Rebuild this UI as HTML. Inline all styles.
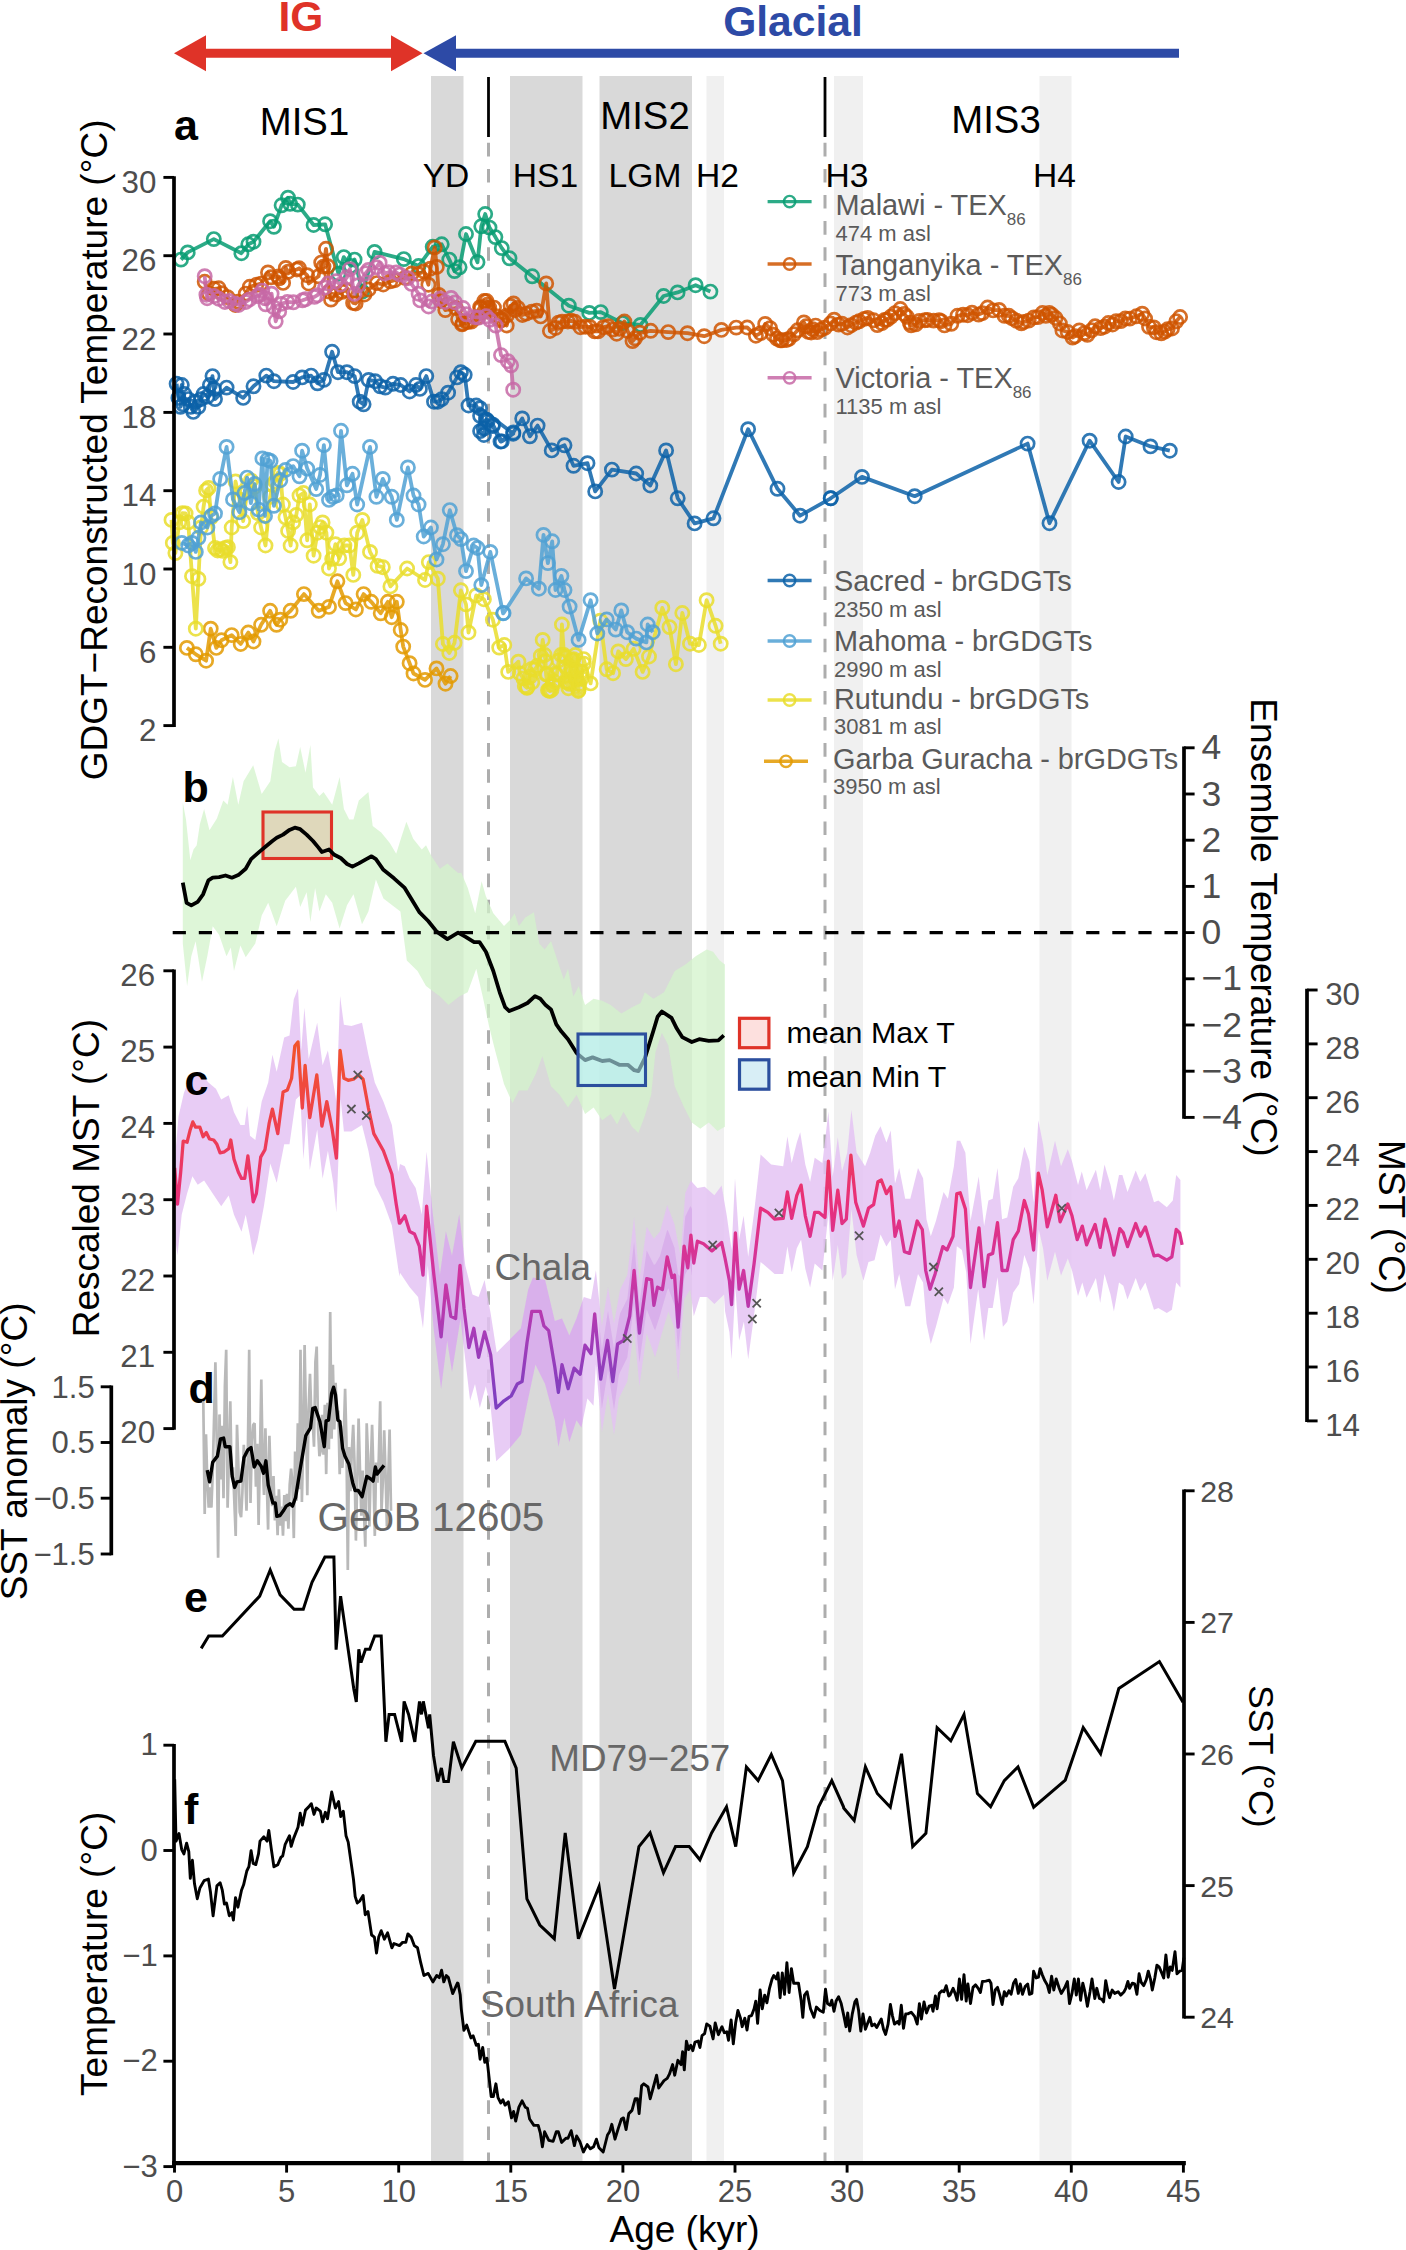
<!DOCTYPE html>
<html><head><meta charset="utf-8"><title>Figure</title>
<style>html,body{margin:0;padding:0;background:#fff}body{width:1406px;height:2250px;overflow:hidden;font-family:"Liberation Sans", sans-serif}svg{display:block}</style>
</head><body>
<svg width="1406" height="2250" viewBox="0 0 1406 2250" font-family='"Liberation Sans", sans-serif'><rect x="431" y="76" width="32.5" height="2088" fill="#d9d9d9"/>
<rect x="510" y="76" width="72.5" height="2088" fill="#d9d9d9"/>
<rect x="599.5" y="76" width="92.5" height="2088" fill="#d9d9d9"/>
<rect x="706.5" y="76" width="17.5" height="2088" fill="#f0f0f0"/>
<rect x="834" y="76" width="29" height="2088" fill="#f0f0f0"/>
<rect x="1039.5" y="76" width="32.0" height="2088" fill="#f0f0f0"/>
<line x1="488.5" y1="142.8" x2="488.5" y2="2164" stroke="#adadad" stroke-width="3" stroke-dasharray="13.6 12.5"/>
<line x1="488.5" y1="77" x2="488.5" y2="137" stroke="#000" stroke-width="2.8"/>
<line x1="825" y1="142.8" x2="825" y2="2164" stroke="#adadad" stroke-width="3" stroke-dasharray="13.6 12.5"/>
<line x1="825" y1="77" x2="825" y2="137" stroke="#000" stroke-width="2.8"/>
<path d="M182.8,802.5 L186.0,819.6 L190.3,860.2 L193.5,849.5 L196.7,845.2 L199.9,823.9 L204.1,808.9 L209.5,830.3 L216.9,818.5 L223.3,800.4 L227.6,804.7 L232.9,776.9 L238.3,804.7 L243.6,781.2 L253.2,765.2 L261.7,794.0 L270.3,781.2 L274.6,751.3 L278.4,738.5 L282.0,762.0 L289.5,767.3 L295.9,766.3 L300.2,747.1 L305.5,772.7 L310.4,744.9 L313.0,787.6 L319.4,796.1 L323.6,791.9 L332.2,804.7 L339.6,776.9 L343.9,808.9 L349.2,819.6 L353.5,819.6 L358.8,800.4 L368.4,791.9 L372.7,826.0 L381.2,832.4 L389.8,843.1 L396.2,853.8 L401.5,836.7 L406.4,821.7 L413.2,838.8 L421.8,849.5 L426.0,845.2 L431.4,855.9 L439.9,868.7 L447.4,863.4 L458.1,873.0 L461.3,872.8 L467.7,887.7 L475.2,913.3 L481.6,881.3 L485.9,896.3 L493.3,913.3 L504.0,926.1 L510.4,919.7 L514.7,913.3 L518.9,926.1 L525.3,917.6 L533.9,912.3 L539.2,943.2 L544.6,949.6 L551.0,941.1 L557.4,960.3 L563.8,979.5 L568.0,968.8 L573.4,996.6 L578.7,985.9 L585.1,1005.1 L593.6,998.7 L602.2,1000.8 L610.7,1005.1 L621.4,1013.6 L632.0,1007.2 L640.6,1003.0 L644.8,992.3 L653.4,998.7 L664.0,992.3 L674.7,971.0 L685.4,964.6 L696.0,956.0 L706.7,949.6 L713.1,951.7 L719.5,960.3 L724.9,964.6 L724.9,1126.7 L717.4,1131.0 L708.8,1122.4 L700.3,1128.8 L691.8,1122.4 L683.2,1105.4 L674.7,1086.2 L668.3,1045.6 L661.9,1032.8 L655.5,1052.0 L651.2,1094.7 L644.8,1116.0 L638.4,1133.1 L632.0,1126.7 L623.5,1111.8 L617.1,1124.6 L610.7,1113.9 L602.2,1120.3 L593.6,1107.5 L585.1,1113.9 L576.6,1094.7 L568.0,1107.5 L559.5,1094.7 L551.0,1086.2 L542.4,1056.3 L536.0,1073.4 L527.5,1090.4 L518.9,1090.4 L512.5,1103.2 L504.0,1084.0 L495.5,1052.0 L489.1,1026.4 L482.7,996.6 L476.3,968.8 L467.7,992.3 L459.2,996.6 L448.5,1005.1 L440.0,996.6 L426.0,986.0 L417.5,971.1 L406.8,960.4 L400.4,911.4 L391.9,905.0 L383.4,898.6 L375.9,879.4 L368.4,911.4 L362.0,924.2 L353.5,894.3 L347.1,905.0 L339.6,928.4 L332.2,902.8 L325.8,894.3 L319.4,911.4 L315.1,887.9 L310.4,922.0 L306.6,892.2 L300.2,907.1 L295.9,886.8 L285.2,900.7 L276.7,926.3 L268.2,902.8 L261.7,915.6 L255.3,943.4 L245.7,957.2 L240.4,945.5 L234.0,971.1 L230.8,947.6 L226.5,956.2 L219.1,934.8 L212.7,926.3 L207.3,956.2 L202.0,981.8 L195.6,941.2 L191.3,956.2 L187.1,986.0 L182.8,943.4Z" fill="rgba(211,243,203,0.75)" stroke="none"/>
<path d="M174.7,1161.4 L178.5,1116.6 L183.9,1093.1 L191.3,1073.9 L199.9,1071.7 L208.4,1082.4 L215.9,1088.8 L221.2,1099.5 L228.7,1095.2 L234.0,1112.3 L240.4,1125.1 L244.7,1125.1 L247.2,1105.9 L250.0,1135.8 L255.3,1140.0 L261.7,1101.6 L268.2,1082.4 L272.4,1054.7 L276.7,1071.7 L284.2,1037.6 L289.5,1035.5 L293.8,999.2 L298.0,988.5 L301.2,1050.4 L304.4,1007.7 L308.7,1058.9 L317.2,1022.7 L322.6,1065.3 L327.9,1050.4 L333.2,1082.4 L336.4,1101.6 L340.1,996.0 L343.9,1024.8 L351.4,1025.9 L362.0,1022.7 L368.4,1054.7 L374.8,1082.4 L383.4,1101.6 L391.9,1125.1 L398.3,1172.0 L400.0,1163.9 L404.8,1166.3 L409.7,1178.4 L415.7,1188.0 L421.8,1214.6 L426.6,1151.8 L432.6,1212.2 L439.9,1275.1 L445.9,1231.6 L452.0,1255.7 L459.2,1214.6 L465.3,1265.4 L472.5,1294.4 L478.6,1296.9 L484.6,1279.9 L490.7,1313.8 L496.7,1352.5 L508.8,1340.4 L520.9,1328.3 L528.2,1289.6 L533.0,1277.5 L545.1,1279.9 L554.8,1321.0 L562.0,1318.6 L569.3,1335.5 L576.5,1318.6 L583.8,1296.9 L591.0,1299.3 L595.9,1270.3 L601.9,1325.9 L608.0,1287.2 L614.0,1323.5 L620.1,1289.6 L627.3,1275.1 L634.1,1217.1 L639.4,1279.9 L646.7,1226.7 L653.9,1238.8 L660.0,1231.6 L667.2,1205.0 L674.5,1224.3 L680.5,1255.7 L685.3,1192.9 L690.9,1180.8 L697.4,1188.0 L704.7,1186.8 L714.4,1195.3 L721.6,1185.6 L726.8,1215.8 L731.6,1250.0 L735.0,1178.3 L739.1,1239.7 L743.6,1215.8 L748.2,1256.8 L754.1,1212.4 L760.6,1154.4 L771.2,1164.6 L783.2,1166.3 L787.4,1136.5 L791.7,1162.9 L796.8,1142.4 L800.2,1132.2 L805.3,1164.6 L810.1,1181.7 L814.7,1157.8 L822.4,1162.9 L828.4,1111.7 L832.7,1176.6 L837.8,1137.3 L842.0,1171.5 L847.2,1152.7 L851.4,1110.0 L856.6,1152.7 L865.1,1166.3 L870.2,1152.7 L875.3,1135.6 L880.5,1126.2 L886.4,1142.4 L890.7,1130.5 L895.0,1183.4 L899.2,1168.0 L905.2,1198.8 L910.3,1198.8 L918.0,1168.0 L923.1,1178.3 L926.5,1219.2 L930.8,1236.3 L935.9,1221.0 L943.6,1191.9 L947.9,1198.8 L953.9,1166.3 L956.8,1140.7 L957.3,1140.7 L960.2,1140.7 L965.4,1152.7 L970.5,1221.0 L978.7,1176.6 L984.1,1226.1 L988.4,1200.5 L992.7,1198.8 L997.5,1168.0 L1002.1,1219.2 L1007.2,1217.5 L1013.2,1186.8 L1018.3,1178.3 L1024.3,1146.7 L1029.4,1161.2 L1033.6,1202.2 L1038.3,1120.2 L1043.0,1144.1 L1047.3,1174.9 L1055.0,1140.7 L1061.0,1166.3 L1067.8,1149.3 L1072.0,1161.2 L1078.0,1185.1 L1081.8,1171.5 L1086.6,1190.2 L1095.9,1169.7 L1100.2,1190.2 L1104.5,1164.6 L1110.5,1185.1 L1113.9,1200.5 L1119.0,1174.9 L1122.4,1174.9 L1127.5,1191.9 L1135.7,1170.6 L1140.3,1181.7 L1145.4,1173.2 L1154.0,1202.2 L1158.3,1200.5 L1166.8,1207.3 L1172.8,1200.5 L1176.2,1174.9 L1180.4,1180.0 L1180.4,1287.5 L1176.2,1282.4 L1171.9,1309.7 L1166.8,1313.1 L1158.3,1308.0 L1154.0,1309.7 L1145.4,1282.4 L1140.3,1290.9 L1135.7,1278.1 L1127.5,1299.5 L1123.3,1285.8 L1119.0,1282.4 L1113.9,1311.4 L1110.5,1294.4 L1104.5,1273.9 L1100.2,1302.9 L1095.9,1278.1 L1086.6,1297.8 L1082.3,1282.4 L1078.0,1296.1 L1072.0,1270.5 L1067.8,1258.5 L1061.0,1275.6 L1055.0,1251.7 L1047.3,1280.7 L1043.0,1248.3 L1038.8,1229.5 L1033.6,1304.6 L1029.4,1268.7 L1024.3,1255.1 L1019.1,1284.1 L1013.2,1292.6 L1007.2,1321.7 L1002.9,1326.8 L997.5,1277.3 L992.7,1308.0 L988.4,1308.0 L984.1,1340.4 L978.2,1289.2 L970.5,1343.9 L966.2,1272.2 L961.9,1250.0 L957.3,1246.6 L956.8,1246.6 L953.9,1287.5 L947.9,1304.6 L943.6,1297.8 L935.9,1326.8 L930.8,1343.9 L926.5,1323.4 L923.1,1282.4 L918.0,1273.9 L910.3,1306.3 L905.2,1306.3 L899.2,1273.9 L895.0,1289.2 L890.7,1239.7 L886.4,1246.6 L880.5,1234.6 L874.5,1260.2 L868.5,1261.9 L863.4,1280.7 L856.6,1255.1 L851.4,1209.0 L846.3,1273.9 L842.0,1279.0 L837.8,1244.9 L832.7,1280.7 L828.4,1214.1 L822.4,1270.5 L814.7,1263.6 L810.1,1287.5 L805.3,1268.7 L801.1,1239.7 L796.8,1248.3 L791.7,1272.2 L787.4,1246.6 L783.2,1273.9 L774.6,1273.9 L760.6,1261.9 L754.1,1314.8 L748.2,1359.2 L743.9,1321.7 L739.1,1340.4 L735.4,1287.5 L731.6,1359.2 L729.4,1331.9 L725.1,1311.4 L724.0,1294.4 L714.4,1304.1 L707.1,1296.9 L699.9,1296.9 L693.8,1316.2 L690.2,1289.6 L684.1,1299.3 L678.1,1381.5 L674.5,1328.3 L668.4,1311.4 L661.2,1335.5 L655.1,1357.3 L646.7,1333.1 L639.4,1386.3 L634.1,1328.3 L627.3,1381.5 L618.8,1398.4 L614.0,1434.7 L608.0,1393.6 L601.9,1432.3 L595.9,1364.6 L593.5,1405.7 L587.4,1398.4 L581.4,1427.4 L576.5,1420.2 L569.3,1441.9 L564.4,1417.8 L558.4,1446.8 L554.8,1420.2 L545.1,1383.9 L535.4,1364.6 L528.2,1398.4 L520.9,1434.7 L508.8,1449.2 L496.2,1461.3 L490.7,1408.1 L485.8,1386.3 L479.8,1408.1 L475.0,1383.9 L470.1,1400.8 L465.3,1359.7 L460.5,1318.6 L452.0,1371.8 L447.2,1340.4 L441.1,1388.7 L433.9,1330.7 L427.8,1265.4 L423.0,1328.3 L418.1,1296.9 L409.7,1287.2 L400.0,1272.7 L399.4,1276.6 L391.9,1225.4 L383.4,1201.9 L374.8,1184.8 L368.4,1150.7 L362.0,1125.1 L351.4,1131.5 L343.9,1131.5 L340.7,1099.5 L336.4,1212.6 L333.2,1182.7 L327.9,1150.7 L322.6,1178.4 L317.2,1129.4 L309.8,1169.9 L306.6,1116.6 L303.4,1159.2 L300.2,1095.2 L295.9,1099.5 L289.5,1144.3 L284.2,1144.3 L276.7,1182.7 L270.3,1163.5 L263.9,1206.2 L257.5,1240.3 L253.2,1255.2 L250.0,1236.0 L245.7,1214.7 L241.5,1231.8 L234.0,1214.7 L228.7,1195.5 L221.2,1206.2 L212.7,1193.4 L204.1,1180.6 L197.7,1184.8 L192.4,1176.3 L187.1,1193.4 L181.7,1214.7 L177.5,1255.2 L174.7,1236.0Z" fill="rgba(227,194,243,0.84)" stroke="none"/>
<defs><clipPath id="cpg"><rect x="599.5" y="900" width="92.5" height="700"/></clipPath><clipPath id="cpg2"><rect x="431" y="900" width="32.5" height="700"/><rect x="510" y="900" width="72.5" height="700"/></clipPath></defs>
<g clip-path="url(#cpg)"><path d="M174.7,1178.2 L177.5,1156.9 L178.5,1145.6 L181.7,1127.9 L183.9,1118.5 L187.1,1109.2 L191.3,1097.7 L192.4,1096.7 L197.7,1097.6 L199.9,1096.8 L204.1,1100.3 L208.4,1105.9 L212.7,1110.2 L215.9,1113.4 L221.2,1123.5 L228.7,1117.8 L234.0,1135.3 L240.4,1148.5 L241.5,1149.1 L244.7,1146.2 L245.7,1139.3 L247.2,1132.1 L250.0,1158.3 L253.2,1164.6 L255.3,1164.3 L257.5,1152.3 L261.7,1127.8 L263.9,1120.1 L268.2,1103.8 L270.3,1089.9 L272.4,1080.6 L276.7,1096.7 L284.2,1061.6 L289.5,1060.0 L293.8,1025.1 L295.9,1017.6 L298.0,1013.0 L300.2,1045.5 L301.2,1065.0 L303.4,1052.1 L304.4,1038.8 L306.6,1052.5 L308.7,1079.8 L309.8,1080.2 L317.2,1046.7 L322.6,1090.7 L327.9,1073.0 L333.2,1105.0 L336.4,1126.6 L340.1,1022.8 L340.7,1022.8 L343.9,1048.8 L351.4,1049.7 L362.0,1045.7 L368.4,1076.3 L374.8,1105.4 L383.4,1124.2 L391.9,1147.7 L398.3,1193.8 L399.4,1191.5 L400.0,1188.4 L404.8,1191.9 L409.7,1202.9 L415.7,1211.9 L418.1,1220.6 L421.8,1238.5 L423.0,1228.0 L426.6,1180.9 L427.8,1186.7 L432.6,1235.7 L433.9,1247.5 L439.9,1298.5 L441.1,1293.9 L445.9,1258.4 L447.2,1260.1 L452.0,1281.8 L459.2,1239.8 L460.5,1246.4 L465.3,1286.6 L470.1,1310.8 L472.5,1316.5 L475.0,1315.3 L478.6,1320.6 L479.8,1319.3 L484.6,1304.8 L485.8,1309.0 L490.7,1335.0 L496.2,1374.5 L496.7,1376.9 L508.8,1364.9 L520.9,1352.2 L528.2,1314.1 L533.0,1299.6 L535.4,1297.5 L545.1,1303.3 L554.8,1343.3 L558.4,1348.4 L562.0,1343.5 L564.4,1345.2 L569.3,1359.4 L576.5,1341.5 L581.4,1331.8 L583.8,1323.7 L587.4,1320.7 L591.0,1322.6 L593.5,1311.8 L595.9,1291.5 L601.9,1349.8 L608.0,1311.1 L614.0,1348.5 L618.8,1319.7 L620.1,1313.5 L627.3,1299.0 L634.1,1242.1 L639.4,1303.8 L646.7,1250.6 L653.9,1264.7 L655.1,1264.4 L660.0,1255.9 L661.2,1251.5 L667.2,1229.8 L668.4,1231.4 L674.5,1247.7 L678.1,1274.3 L680.5,1276.6 L684.1,1229.0 L685.3,1216.4 L690.2,1206.5 L690.9,1206.4 L693.8,1213.8 L697.4,1214.3 L699.9,1212.2 L704.7,1211.6 L707.1,1213.2 L714.4,1219.8 L721.6,1210.6 L724.0,1220.9 L725.1,1229.7 L726.8,1239.1 L729.4,1256.3 L731.6,1274.6 L735.0,1204.6 L735.4,1207.5 L739.1,1262.4 L743.6,1239.9 L743.9,1241.7 L748.2,1279.8 L754.1,1235.4 L760.6,1178.6 L771.2,1188.5 L774.6,1189.6 L783.2,1190.5 L787.4,1161.3 L791.7,1187.5 L796.8,1166.2 L800.2,1156.8 L801.1,1160.8 L805.3,1188.0 L810.1,1205.5 L814.7,1181.6 L822.4,1187.1 L828.4,1134.7 L832.7,1200.0 L837.8,1161.5 L842.0,1195.7 L846.3,1182.5 L847.2,1177.4 L851.4,1132.3 L856.6,1175.7 L863.4,1189.9 L865.1,1190.6 L868.5,1180.8 L870.2,1177.2 L874.5,1165.7 L875.3,1162.9 L880.5,1150.6 L886.4,1165.8 L890.7,1155.1 L895.0,1207.2 L899.2,1191.8 L905.2,1223.0 L910.3,1223.0 L918.0,1191.8 L923.1,1201.7 L926.5,1242.6 L930.8,1260.5 L935.9,1244.8 L943.6,1215.7 L947.9,1222.6 L953.9,1193.6 L956.8,1164.5 L957.3,1164.5 L960.2,1165.0 L961.9,1168.3 L965.4,1178.7 L966.2,1187.9 L970.5,1248.7 L978.2,1204.0 L978.7,1202.9 L984.1,1251.8 L988.4,1224.7 L992.7,1223.4 L997.5,1192.6 L1002.1,1241.8 L1002.9,1243.2 L1007.2,1240.9 L1013.2,1210.6 L1018.3,1202.4 L1019.1,1198.8 L1024.3,1171.1 L1029.4,1185.4 L1033.6,1225.2 L1038.3,1146.4 L1038.8,1146.8 L1043.0,1167.5 L1047.3,1198.7 L1055.0,1165.7 L1061.0,1190.9 L1067.8,1173.9 L1072.0,1185.8 L1078.0,1210.1 L1081.8,1196.8 L1082.3,1198.0 L1086.6,1214.4 L1095.9,1194.1 L1100.2,1215.6 L1104.5,1189.2 L1110.5,1209.7 L1113.9,1225.5 L1119.0,1199.1 L1122.4,1199.7 L1123.3,1202.2 L1127.5,1216.1 L1135.7,1194.8 L1140.3,1206.3 L1145.4,1197.8 L1154.0,1226.4 L1158.3,1224.7 L1166.8,1231.1 L1171.9,1225.9 L1172.8,1223.8 L1176.2,1199.1 L1180.4,1204.2 L1180.4,1263.3 L1176.2,1258.2 L1172.8,1280.7 L1171.9,1285.4 L1166.8,1289.3 L1158.3,1283.8 L1154.0,1285.5 L1145.4,1257.8 L1140.3,1266.3 L1135.7,1253.9 L1127.5,1275.3 L1123.3,1261.5 L1122.4,1260.3 L1119.0,1258.2 L1113.9,1286.4 L1110.5,1269.8 L1104.5,1249.3 L1100.2,1277.5 L1095.9,1253.7 L1086.6,1273.6 L1082.3,1257.9 L1081.8,1258.7 L1078.0,1271.1 L1072.0,1245.9 L1067.8,1233.9 L1061.0,1251.0 L1055.0,1226.7 L1047.3,1256.9 L1043.0,1224.9 L1038.8,1205.5 L1038.3,1210.5 L1033.6,1281.6 L1029.4,1244.5 L1024.3,1230.7 L1019.1,1259.3 L1018.3,1261.2 L1013.2,1268.8 L1007.2,1298.3 L1002.9,1302.5 L1002.1,1296.9 L997.5,1252.7 L992.7,1283.4 L988.4,1283.8 L984.1,1314.7 L978.7,1267.2 L978.2,1264.5 L970.5,1316.2 L966.2,1247.7 L965.4,1242.1 L961.9,1226.3 L960.2,1224.4 L957.3,1222.8 L956.8,1222.8 L953.9,1260.2 L947.9,1280.8 L943.6,1274.0 L935.9,1303.0 L930.8,1319.7 L926.5,1300.0 L923.1,1259.0 L918.0,1250.1 L910.3,1282.1 L905.2,1282.1 L899.2,1250.1 L895.0,1265.4 L890.7,1215.1 L886.4,1223.2 L880.5,1210.2 L875.3,1229.5 L874.5,1232.8 L870.2,1237.0 L868.5,1238.4 L865.1,1250.1 L863.4,1254.3 L856.6,1232.1 L851.4,1186.7 L847.2,1237.8 L846.3,1247.4 L842.0,1254.8 L837.8,1220.7 L832.7,1257.3 L828.4,1191.1 L822.4,1246.3 L814.7,1239.8 L810.1,1263.7 L805.3,1245.3 L801.1,1216.8 L800.2,1216.9 L796.8,1224.5 L791.7,1247.6 L787.4,1221.8 L783.2,1249.7 L774.6,1249.4 L771.2,1247.0 L760.6,1237.7 L754.1,1291.8 L748.2,1336.2 L743.9,1298.5 L743.6,1298.8 L739.1,1317.7 L735.4,1264.3 L735.0,1268.8 L731.6,1334.6 L729.4,1309.9 L726.8,1296.2 L725.1,1287.7 L724.0,1273.1 L721.6,1271.8 L714.4,1279.6 L707.1,1272.6 L704.7,1272.1 L699.9,1272.3 L697.4,1278.5 L693.8,1286.5 L690.9,1269.1 L690.2,1265.5 L685.3,1273.9 L684.1,1278.9 L680.5,1327.7 L678.1,1350.4 L674.5,1304.9 L668.4,1288.2 L667.2,1290.6 L661.2,1311.1 L660.0,1315.4 L655.1,1330.3 L653.9,1328.0 L646.7,1309.2 L639.4,1362.4 L634.1,1303.3 L627.3,1357.6 L620.1,1371.9 L618.8,1375.5 L614.0,1409.7 L608.0,1369.7 L601.9,1408.4 L595.9,1343.4 L593.5,1378.4 L591.0,1379.4 L587.4,1375.8 L583.8,1389.0 L581.4,1399.6 L576.5,1397.3 L569.3,1418.0 L564.4,1396.7 L562.0,1404.5 L558.4,1418.2 L554.8,1397.9 L545.1,1360.5 L535.4,1345.1 L533.0,1353.7 L528.2,1373.9 L520.9,1410.8 L508.8,1424.7 L496.7,1436.4 L496.2,1436.1 L490.7,1386.9 L485.8,1363.9 L484.6,1365.7 L479.8,1382.3 L478.6,1378.4 L475.0,1364.0 L472.5,1370.4 L470.1,1374.7 L465.3,1338.5 L460.5,1297.6 L459.2,1301.5 L452.0,1345.7 L447.2,1317.1 L445.9,1323.9 L441.1,1361.2 L439.9,1355.6 L433.9,1306.6 L432.6,1293.3 L427.8,1242.6 L426.6,1252.0 L423.0,1299.2 L421.8,1296.8 L418.1,1274.8 L415.7,1270.2 L409.7,1262.7 L404.8,1254.3 L400.0,1248.2 L399.4,1251.9 L398.3,1247.2 L391.9,1202.8 L383.4,1179.3 L374.8,1161.8 L368.4,1129.1 L362.0,1102.1 L351.4,1107.7 L343.9,1107.5 L340.7,1077.2 L340.1,1088.4 L336.4,1187.6 L333.2,1160.1 L327.9,1128.1 L322.6,1153.0 L317.2,1105.4 L309.8,1143.9 L308.7,1130.7 L306.6,1098.0 L304.4,1114.8 L303.4,1128.1 L301.2,1100.6 L300.2,1080.8 L298.0,1072.9 L295.9,1075.7 L293.8,1088.3 L289.5,1119.8 L284.2,1120.3 L276.7,1157.7 L272.4,1143.9 L270.3,1142.1 L268.2,1156.1 L263.9,1181.2 L261.7,1191.7 L257.5,1214.8 L255.3,1223.6 L253.2,1228.9 L250.0,1213.5 L247.2,1196.0 L245.7,1192.8 L244.7,1197.7 L241.5,1207.8 L240.4,1205.8 L234.0,1191.7 L228.7,1172.9 L221.2,1182.2 L215.9,1173.6 L212.7,1169.3 L208.4,1163.5 L204.1,1157.3 L199.9,1158.2 L197.7,1159.5 L192.4,1153.2 L191.3,1156.0 L187.1,1169.0 L183.9,1180.6 L181.7,1189.5 L178.5,1216.5 L177.5,1226.7 L174.7,1219.2Z" fill="rgba(200,130,228,0.33)" stroke="none"/></g>
<g clip-path="url(#cpg2)"><path d="M174.7,1161.4 L178.5,1116.6 L183.9,1093.1 L191.3,1073.9 L199.9,1071.7 L208.4,1082.4 L215.9,1088.8 L221.2,1099.5 L228.7,1095.2 L234.0,1112.3 L240.4,1125.1 L244.7,1125.1 L247.2,1105.9 L250.0,1135.8 L255.3,1140.0 L261.7,1101.6 L268.2,1082.4 L272.4,1054.7 L276.7,1071.7 L284.2,1037.6 L289.5,1035.5 L293.8,999.2 L298.0,988.5 L301.2,1050.4 L304.4,1007.7 L308.7,1058.9 L317.2,1022.7 L322.6,1065.3 L327.9,1050.4 L333.2,1082.4 L336.4,1101.6 L340.1,996.0 L343.9,1024.8 L351.4,1025.9 L362.0,1022.7 L368.4,1054.7 L374.8,1082.4 L383.4,1101.6 L391.9,1125.1 L398.3,1172.0 L400.0,1163.9 L404.8,1166.3 L409.7,1178.4 L415.7,1188.0 L421.8,1214.6 L426.6,1151.8 L432.6,1212.2 L439.9,1275.1 L445.9,1231.6 L452.0,1255.7 L459.2,1214.6 L465.3,1265.4 L472.5,1294.4 L478.6,1296.9 L484.6,1279.9 L490.7,1313.8 L496.7,1352.5 L508.8,1340.4 L520.9,1328.3 L528.2,1289.6 L533.0,1277.5 L545.1,1279.9 L554.8,1321.0 L562.0,1318.6 L569.3,1335.5 L576.5,1318.6 L583.8,1296.9 L591.0,1299.3 L595.9,1270.3 L601.9,1325.9 L608.0,1287.2 L614.0,1323.5 L620.1,1289.6 L627.3,1275.1 L634.1,1217.1 L639.4,1279.9 L646.7,1226.7 L653.9,1238.8 L660.0,1231.6 L667.2,1205.0 L674.5,1224.3 L680.5,1255.7 L685.3,1192.9 L690.9,1180.8 L697.4,1188.0 L704.7,1186.8 L714.4,1195.3 L721.6,1185.6 L726.8,1215.8 L731.6,1250.0 L735.0,1178.3 L739.1,1239.7 L743.6,1215.8 L748.2,1256.8 L754.1,1212.4 L760.6,1154.4 L771.2,1164.6 L783.2,1166.3 L787.4,1136.5 L791.7,1162.9 L796.8,1142.4 L800.2,1132.2 L805.3,1164.6 L810.1,1181.7 L814.7,1157.8 L822.4,1162.9 L828.4,1111.7 L832.7,1176.6 L837.8,1137.3 L842.0,1171.5 L847.2,1152.7 L851.4,1110.0 L856.6,1152.7 L865.1,1166.3 L870.2,1152.7 L875.3,1135.6 L880.5,1126.2 L886.4,1142.4 L890.7,1130.5 L895.0,1183.4 L899.2,1168.0 L905.2,1198.8 L910.3,1198.8 L918.0,1168.0 L923.1,1178.3 L926.5,1219.2 L930.8,1236.3 L935.9,1221.0 L943.6,1191.9 L947.9,1198.8 L953.9,1166.3 L956.8,1140.7 L957.3,1140.7 L960.2,1140.7 L965.4,1152.7 L970.5,1221.0 L978.7,1176.6 L984.1,1226.1 L988.4,1200.5 L992.7,1198.8 L997.5,1168.0 L1002.1,1219.2 L1007.2,1217.5 L1013.2,1186.8 L1018.3,1178.3 L1024.3,1146.7 L1029.4,1161.2 L1033.6,1202.2 L1038.3,1120.2 L1043.0,1144.1 L1047.3,1174.9 L1055.0,1140.7 L1061.0,1166.3 L1067.8,1149.3 L1072.0,1161.2 L1078.0,1185.1 L1081.8,1171.5 L1086.6,1190.2 L1095.9,1169.7 L1100.2,1190.2 L1104.5,1164.6 L1110.5,1185.1 L1113.9,1200.5 L1119.0,1174.9 L1122.4,1174.9 L1127.5,1191.9 L1135.7,1170.6 L1140.3,1181.7 L1145.4,1173.2 L1154.0,1202.2 L1158.3,1200.5 L1166.8,1207.3 L1172.8,1200.5 L1176.2,1174.9 L1180.4,1180.0 L1180.4,1287.5 L1176.2,1282.4 L1171.9,1309.7 L1166.8,1313.1 L1158.3,1308.0 L1154.0,1309.7 L1145.4,1282.4 L1140.3,1290.9 L1135.7,1278.1 L1127.5,1299.5 L1123.3,1285.8 L1119.0,1282.4 L1113.9,1311.4 L1110.5,1294.4 L1104.5,1273.9 L1100.2,1302.9 L1095.9,1278.1 L1086.6,1297.8 L1082.3,1282.4 L1078.0,1296.1 L1072.0,1270.5 L1067.8,1258.5 L1061.0,1275.6 L1055.0,1251.7 L1047.3,1280.7 L1043.0,1248.3 L1038.8,1229.5 L1033.6,1304.6 L1029.4,1268.7 L1024.3,1255.1 L1019.1,1284.1 L1013.2,1292.6 L1007.2,1321.7 L1002.9,1326.8 L997.5,1277.3 L992.7,1308.0 L988.4,1308.0 L984.1,1340.4 L978.2,1289.2 L970.5,1343.9 L966.2,1272.2 L961.9,1250.0 L957.3,1246.6 L956.8,1246.6 L953.9,1287.5 L947.9,1304.6 L943.6,1297.8 L935.9,1326.8 L930.8,1343.9 L926.5,1323.4 L923.1,1282.4 L918.0,1273.9 L910.3,1306.3 L905.2,1306.3 L899.2,1273.9 L895.0,1289.2 L890.7,1239.7 L886.4,1246.6 L880.5,1234.6 L874.5,1260.2 L868.5,1261.9 L863.4,1280.7 L856.6,1255.1 L851.4,1209.0 L846.3,1273.9 L842.0,1279.0 L837.8,1244.9 L832.7,1280.7 L828.4,1214.1 L822.4,1270.5 L814.7,1263.6 L810.1,1287.5 L805.3,1268.7 L801.1,1239.7 L796.8,1248.3 L791.7,1272.2 L787.4,1246.6 L783.2,1273.9 L774.6,1273.9 L760.6,1261.9 L754.1,1314.8 L748.2,1359.2 L743.9,1321.7 L739.1,1340.4 L735.4,1287.5 L731.6,1359.2 L729.4,1331.9 L725.1,1311.4 L724.0,1294.4 L714.4,1304.1 L707.1,1296.9 L699.9,1296.9 L693.8,1316.2 L690.2,1289.6 L684.1,1299.3 L678.1,1381.5 L674.5,1328.3 L668.4,1311.4 L661.2,1335.5 L655.1,1357.3 L646.7,1333.1 L639.4,1386.3 L634.1,1328.3 L627.3,1381.5 L618.8,1398.4 L614.0,1434.7 L608.0,1393.6 L601.9,1432.3 L595.9,1364.6 L593.5,1405.7 L587.4,1398.4 L581.4,1427.4 L576.5,1420.2 L569.3,1441.9 L564.4,1417.8 L558.4,1446.8 L554.8,1420.2 L545.1,1383.9 L535.4,1364.6 L528.2,1398.4 L520.9,1434.7 L508.8,1449.2 L496.2,1461.3 L490.7,1408.1 L485.8,1386.3 L479.8,1408.1 L475.0,1383.9 L470.1,1400.8 L465.3,1359.7 L460.5,1318.6 L452.0,1371.8 L447.2,1340.4 L441.1,1388.7 L433.9,1330.7 L427.8,1265.4 L423.0,1328.3 L418.1,1296.9 L409.7,1287.2 L400.0,1272.7 L399.4,1276.6 L391.9,1225.4 L383.4,1201.9 L374.8,1184.8 L368.4,1150.7 L362.0,1125.1 L351.4,1131.5 L343.9,1131.5 L340.7,1099.5 L336.4,1212.6 L333.2,1182.7 L327.9,1150.7 L322.6,1178.4 L317.2,1129.4 L309.8,1169.9 L306.6,1116.6 L303.4,1159.2 L300.2,1095.2 L295.9,1099.5 L289.5,1144.3 L284.2,1144.3 L276.7,1182.7 L270.3,1163.5 L263.9,1206.2 L257.5,1240.3 L253.2,1255.2 L250.0,1236.0 L245.7,1214.7 L241.5,1231.8 L234.0,1214.7 L228.7,1195.5 L221.2,1206.2 L212.7,1193.4 L204.1,1180.6 L197.7,1184.8 L192.4,1176.3 L187.1,1193.4 L181.7,1214.7 L177.5,1255.2 L174.7,1236.0Z" fill="rgba(200,130,228,0.33)" stroke="none"/></g>
<line x1="200" y1="53.2" x2="398" y2="53.2" stroke="#df3328" stroke-width="9"/>
<path d="M174,53.2 L206,35.2 L206,71.2Z" fill="#df3328"/>
<path d="M422.5,53.2 L391,35.2 L391,71.2Z" fill="#df3328"/>
<line x1="450" y1="53.2" x2="1179" y2="53.2" stroke="#2d4aa6" stroke-width="9"/>
<path d="M423.5,53.2 L456,35.2 L456,71.2Z" fill="#2d4aa6"/>
<text x="301" y="30.5" font-size="42.5" font-weight="700" fill="#df3328" text-anchor="middle">IG</text>
<text x="793" y="36" font-size="42.6" font-weight="700" fill="#2d4aa6" text-anchor="middle">Glacial</text>
<text x="304.5" y="135.2" font-size="38.3" fill="#000" text-anchor="middle" font-weight="400" >MIS1</text>
<text x="645" y="128.5" font-size="38.3" fill="#000" text-anchor="middle" font-weight="400" >MIS2</text>
<text x="996" y="132.5" font-size="38.3" fill="#000" text-anchor="middle" font-weight="400" >MIS3</text>
<text x="446" y="187" font-size="33.6" fill="#000" text-anchor="middle" font-weight="400" >YD</text>
<text x="545.5" y="187" font-size="33.6" fill="#000" text-anchor="middle" font-weight="400" >HS1</text>
<text x="645" y="187" font-size="33.6" fill="#000" text-anchor="middle" font-weight="400" >LGM</text>
<text x="717.5" y="187" font-size="33.6" fill="#000" text-anchor="middle" font-weight="400" >H2</text>
<text x="825.5" y="187" font-size="33.6" fill="#000" text-anchor="start" font-weight="400" >H3</text>
<text x="1033" y="187" font-size="33.6" fill="#000" text-anchor="start" font-weight="400" >H4</text>
<text x="174" y="140.3" font-size="43" fill="#000" text-anchor="start" font-weight="700" >a</text>
<text x="182.5" y="801.5" font-size="43" fill="#000" text-anchor="start" font-weight="700" >b</text>
<text x="184.4" y="1094.5" font-size="43" fill="#000" text-anchor="start" font-weight="700" >c</text>
<text x="188.5" y="1403.3" font-size="43" fill="#000" text-anchor="start" font-weight="700" >d</text>
<text x="184" y="1611.5" font-size="43" fill="#000" text-anchor="start" font-weight="700" >e</text>
<text x="184" y="1824" font-size="43" fill="#000" text-anchor="start" font-weight="700" >f</text>
<g stroke-opacity="0.85" stroke="#e39a00" fill="none"><path d="M186.9,647.9 L195.8,654.3 L206.1,660.7 L210.7,628.7 L216.3,647.9 L221.5,640.2 L231.7,635.1 L240.7,644.0 L248.3,632.5 L253.5,641.5 L261.1,624.8 L270.1,610.8 L276.5,624.8 L280.3,619.7 L290.6,610.8 L303.9,594.1 L318.7,610.8 L329.0,606.9 L337.4,581.3 L345.6,603.1 L355.9,609.5 L363.6,594.1 L371.2,601.8 L380.7,613.3 L387.9,601.8 L391.7,617.2 L396.8,601.8 L400.7,630.0 L403.2,646.6 L409.6,663.2 L413.5,673.5 L425.0,679.9 L436.5,668.4 L445.5,683.7 L450.6,676.0" fill="none" stroke-width="3.8" stroke-linejoin="round"/><g stroke-width="2.7"><circle cx="186.9" cy="647.9" r="6.6"/><circle cx="195.8" cy="654.3" r="6.6"/><circle cx="206.1" cy="660.7" r="6.6"/><circle cx="210.7" cy="628.7" r="6.6"/><circle cx="216.3" cy="647.9" r="6.6"/><circle cx="221.5" cy="640.2" r="6.6"/><circle cx="231.7" cy="635.1" r="6.6"/><circle cx="240.7" cy="644.0" r="6.6"/><circle cx="248.3" cy="632.5" r="6.6"/><circle cx="253.5" cy="641.5" r="6.6"/><circle cx="261.1" cy="624.8" r="6.6"/><circle cx="270.1" cy="610.8" r="6.6"/><circle cx="276.5" cy="624.8" r="6.6"/><circle cx="280.3" cy="619.7" r="6.6"/><circle cx="290.6" cy="610.8" r="6.6"/><circle cx="303.9" cy="594.1" r="6.6"/><circle cx="318.7" cy="610.8" r="6.6"/><circle cx="329.0" cy="606.9" r="6.6"/><circle cx="337.4" cy="581.3" r="6.6"/><circle cx="345.6" cy="603.1" r="6.6"/><circle cx="355.9" cy="609.5" r="6.6"/><circle cx="363.6" cy="594.1" r="6.6"/><circle cx="371.2" cy="601.8" r="6.6"/><circle cx="380.7" cy="613.3" r="6.6"/><circle cx="387.9" cy="601.8" r="6.6"/><circle cx="391.7" cy="617.2" r="6.6"/><circle cx="396.8" cy="601.8" r="6.6"/><circle cx="400.7" cy="630.0" r="6.6"/><circle cx="403.2" cy="646.6" r="6.6"/><circle cx="409.6" cy="663.2" r="6.6"/><circle cx="413.5" cy="673.5" r="6.6"/><circle cx="425.0" cy="679.9" r="6.6"/><circle cx="436.5" cy="668.4" r="6.6"/><circle cx="445.5" cy="683.7" r="6.6"/><circle cx="450.6" cy="676.0" r="6.6"/></g></g>
<g stroke-opacity="0.85" stroke="#e9dd2c" fill="none"><path d="M171.5,519.9 L172.8,542.9 L175.4,553.1 L179.2,522.4 L182.4,513.2 L185.6,513.5 L188.2,522.4 L192.0,576.2 L195.8,628.7 L198.4,578.9 L201.0,527.5 L203.6,506.6 L206.1,490.4 L208.6,487.9 L211.2,517.3 L215.0,548.0 L217.6,550.5 L220.2,549.3 L222.8,550.9 L225.3,548.0 L227.9,547.2 L230.4,562.1 L231.7,527.5 L235.5,481.5 L239.4,499.4 L243.2,521.1 L247.1,491.7 L250.9,480.4 L254.7,486.6 L257.9,513.1 L261.1,527.5 L265.5,545.5 L270.1,496.8 L272.6,484.8 L275.2,481.5 L277.8,472.9 L280.3,473.8 L282.9,504.5 L285.5,517.3 L288.1,530.9 L290.6,545.5 L293.1,522.4 L296.3,515.0 L299.5,495.5 L303.4,493.0 L307.2,540.3 L309.8,504.5 L313.6,555.7 L317.5,532.7 L320.1,527.1 L322.6,522.4 L326.4,532.7 L329.0,568.5 L332.2,558.9 L335.4,544.2 L339.2,558.3 L344.4,545.5 L349.5,545.5 L353.3,574.9 L357.2,532.7 L362.3,519.9 L370.0,551.9 L377.6,565.9 L382.8,567.2 L390.4,586.4 L407.1,568.5 L425.0,580.0 L428.8,562.1 L437.8,578.7 L442.9,644.0 L449.3,653.0 L454.5,642.8 L460.9,590.3 L466.0,604.4 L468.5,632.5 L476.2,595.4 L483.9,599.2 L492.9,619.7 L499.2,647.6 L504.3,645.0 L508.2,671.9 L518.4,661.7 L519.8,673.5 L523.4,678.4 L524.8,686.0 L527.0,687.8 L527.3,687.3 L529.9,677.0 L531.8,668.9 L532.3,682.2 L535.0,669.3 L537.5,665.7 L540.8,655.9 L542.7,639.9 L544.7,655.0 L545.5,661.2 L546.1,674.5 L548.0,690.2 L547.3,674.4 L549.1,689.8 L549.8,691.0 L551.5,690.0 L553.0,684.7 L553.9,681.5 L555.3,673.8 L556.8,674.5 L558.7,660.4 L561.0,655.0 L561.9,624.5 L564.0,655.0 L565.5,657.2 L565.8,666.8 L566.0,681.9 L568.4,688.2 L568.3,682.1 L569.3,683.9 L569.4,682.9 L570.9,669.3 L571.9,659.9 L571.7,672.5 L573.5,659.1 L575.3,655.0 L575.8,670.1 L576.0,679.6 L576.2,677.2 L578.3,691.0 L578.6,689.8 L578.5,687.1 L579.3,684.1 L581.1,671.9 L581.6,678.3 L583.8,663.6 L583.7,659.1 L590.6,683.4 L600.3,620.7 L606.7,669.3 L613.1,673.2 L618.3,651.4 L625.9,659.1 L633.6,648.8 L642.6,671.9 L649.0,656.5 L662.3,607.9 L669.5,627.1 L675.9,664.2 L682.3,613.0 L690.0,643.7 L698.9,645.0 L706.6,600.2 L715.6,625.8 L720.7,643.7" fill="none" stroke-width="3.8" stroke-linejoin="round"/><g stroke-width="2.7"><circle cx="171.5" cy="519.9" r="6.6"/><circle cx="172.8" cy="542.9" r="6.6"/><circle cx="175.4" cy="553.1" r="6.6"/><circle cx="179.2" cy="522.4" r="6.6"/><circle cx="182.4" cy="513.2" r="6.6"/><circle cx="185.6" cy="513.5" r="6.6"/><circle cx="188.2" cy="522.4" r="6.6"/><circle cx="192.0" cy="576.2" r="6.6"/><circle cx="195.8" cy="628.7" r="6.6"/><circle cx="198.4" cy="578.9" r="6.6"/><circle cx="201.0" cy="527.5" r="6.6"/><circle cx="203.6" cy="506.6" r="6.6"/><circle cx="206.1" cy="490.4" r="6.6"/><circle cx="208.6" cy="487.9" r="6.6"/><circle cx="211.2" cy="517.3" r="6.6"/><circle cx="215.0" cy="548.0" r="6.6"/><circle cx="217.6" cy="550.5" r="6.6"/><circle cx="220.2" cy="549.3" r="6.6"/><circle cx="222.8" cy="550.9" r="6.6"/><circle cx="225.3" cy="548.0" r="6.6"/><circle cx="227.9" cy="547.2" r="6.6"/><circle cx="230.4" cy="562.1" r="6.6"/><circle cx="231.7" cy="527.5" r="6.6"/><circle cx="235.5" cy="481.5" r="6.6"/><circle cx="239.4" cy="499.4" r="6.6"/><circle cx="243.2" cy="521.1" r="6.6"/><circle cx="247.1" cy="491.7" r="6.6"/><circle cx="250.9" cy="480.4" r="6.6"/><circle cx="254.7" cy="486.6" r="6.6"/><circle cx="257.9" cy="513.1" r="6.6"/><circle cx="261.1" cy="527.5" r="6.6"/><circle cx="265.5" cy="545.5" r="6.6"/><circle cx="270.1" cy="496.8" r="6.6"/><circle cx="272.6" cy="484.8" r="6.6"/><circle cx="275.2" cy="481.5" r="6.6"/><circle cx="277.8" cy="472.9" r="6.6"/><circle cx="280.3" cy="473.8" r="6.6"/><circle cx="282.9" cy="504.5" r="6.6"/><circle cx="285.5" cy="517.3" r="6.6"/><circle cx="288.1" cy="530.9" r="6.6"/><circle cx="290.6" cy="545.5" r="6.6"/><circle cx="293.1" cy="522.4" r="6.6"/><circle cx="296.3" cy="515.0" r="6.6"/><circle cx="299.5" cy="495.5" r="6.6"/><circle cx="303.4" cy="493.0" r="6.6"/><circle cx="307.2" cy="540.3" r="6.6"/><circle cx="309.8" cy="504.5" r="6.6"/><circle cx="313.6" cy="555.7" r="6.6"/><circle cx="317.5" cy="532.7" r="6.6"/><circle cx="320.1" cy="527.1" r="6.6"/><circle cx="322.6" cy="522.4" r="6.6"/><circle cx="326.4" cy="532.7" r="6.6"/><circle cx="329.0" cy="568.5" r="6.6"/><circle cx="332.2" cy="558.9" r="6.6"/><circle cx="335.4" cy="544.2" r="6.6"/><circle cx="339.2" cy="558.3" r="6.6"/><circle cx="344.4" cy="545.5" r="6.6"/><circle cx="349.5" cy="545.5" r="6.6"/><circle cx="353.3" cy="574.9" r="6.6"/><circle cx="357.2" cy="532.7" r="6.6"/><circle cx="362.3" cy="519.9" r="6.6"/><circle cx="370.0" cy="551.9" r="6.6"/><circle cx="377.6" cy="565.9" r="6.6"/><circle cx="382.8" cy="567.2" r="6.6"/><circle cx="390.4" cy="586.4" r="6.6"/><circle cx="407.1" cy="568.5" r="6.6"/><circle cx="425.0" cy="580.0" r="6.6"/><circle cx="428.8" cy="562.1" r="6.6"/><circle cx="437.8" cy="578.7" r="6.6"/><circle cx="442.9" cy="644.0" r="6.6"/><circle cx="449.3" cy="653.0" r="6.6"/><circle cx="454.5" cy="642.8" r="6.6"/><circle cx="460.9" cy="590.3" r="6.6"/><circle cx="466.0" cy="604.4" r="6.6"/><circle cx="468.5" cy="632.5" r="6.6"/><circle cx="476.2" cy="595.4" r="6.6"/><circle cx="483.9" cy="599.2" r="6.6"/><circle cx="492.9" cy="619.7" r="6.6"/><circle cx="499.2" cy="647.6" r="6.6"/><circle cx="504.3" cy="645.0" r="6.6"/><circle cx="508.2" cy="671.9" r="6.6"/><circle cx="518.4" cy="661.7" r="6.6"/><circle cx="519.8" cy="673.5" r="6.6"/><circle cx="523.4" cy="678.4" r="6.6"/><circle cx="524.8" cy="686.0" r="6.6"/><circle cx="527.0" cy="687.8" r="6.6"/><circle cx="527.3" cy="687.3" r="6.6"/><circle cx="529.9" cy="677.0" r="6.6"/><circle cx="531.8" cy="668.9" r="6.6"/><circle cx="532.3" cy="682.2" r="6.6"/><circle cx="535.0" cy="669.3" r="6.6"/><circle cx="537.5" cy="665.7" r="6.6"/><circle cx="540.8" cy="655.9" r="6.6"/><circle cx="542.7" cy="639.9" r="6.6"/><circle cx="544.7" cy="655.0" r="6.6"/><circle cx="545.5" cy="661.2" r="6.6"/><circle cx="546.1" cy="674.5" r="6.6"/><circle cx="548.0" cy="690.2" r="6.6"/><circle cx="547.3" cy="674.4" r="6.6"/><circle cx="549.1" cy="689.8" r="6.6"/><circle cx="549.8" cy="691.0" r="6.6"/><circle cx="551.5" cy="690.0" r="6.6"/><circle cx="553.0" cy="684.7" r="6.6"/><circle cx="553.9" cy="681.5" r="6.6"/><circle cx="555.3" cy="673.8" r="6.6"/><circle cx="556.8" cy="674.5" r="6.6"/><circle cx="558.7" cy="660.4" r="6.6"/><circle cx="561.0" cy="655.0" r="6.6"/><circle cx="561.9" cy="624.5" r="6.6"/><circle cx="564.0" cy="655.0" r="6.6"/><circle cx="565.5" cy="657.2" r="6.6"/><circle cx="565.8" cy="666.8" r="6.6"/><circle cx="566.0" cy="681.9" r="6.6"/><circle cx="568.4" cy="688.2" r="6.6"/><circle cx="568.3" cy="682.1" r="6.6"/><circle cx="569.3" cy="683.9" r="6.6"/><circle cx="569.4" cy="682.9" r="6.6"/><circle cx="570.9" cy="669.3" r="6.6"/><circle cx="571.9" cy="659.9" r="6.6"/><circle cx="571.7" cy="672.5" r="6.6"/><circle cx="573.5" cy="659.1" r="6.6"/><circle cx="575.3" cy="655.0" r="6.6"/><circle cx="575.8" cy="670.1" r="6.6"/><circle cx="576.0" cy="679.6" r="6.6"/><circle cx="576.2" cy="677.2" r="6.6"/><circle cx="578.3" cy="691.0" r="6.6"/><circle cx="578.6" cy="689.8" r="6.6"/><circle cx="578.5" cy="687.1" r="6.6"/><circle cx="579.3" cy="684.1" r="6.6"/><circle cx="581.1" cy="671.9" r="6.6"/><circle cx="581.6" cy="678.3" r="6.6"/><circle cx="583.8" cy="663.6" r="6.6"/><circle cx="583.7" cy="659.1" r="6.6"/><circle cx="590.6" cy="683.4" r="6.6"/><circle cx="600.3" cy="620.7" r="6.6"/><circle cx="606.7" cy="669.3" r="6.6"/><circle cx="613.1" cy="673.2" r="6.6"/><circle cx="618.3" cy="651.4" r="6.6"/><circle cx="625.9" cy="659.1" r="6.6"/><circle cx="633.6" cy="648.8" r="6.6"/><circle cx="642.6" cy="671.9" r="6.6"/><circle cx="649.0" cy="656.5" r="6.6"/><circle cx="662.3" cy="607.9" r="6.6"/><circle cx="669.5" cy="627.1" r="6.6"/><circle cx="675.9" cy="664.2" r="6.6"/><circle cx="682.3" cy="613.0" r="6.6"/><circle cx="690.0" cy="643.7" r="6.6"/><circle cx="698.9" cy="645.0" r="6.6"/><circle cx="706.6" cy="600.2" r="6.6"/><circle cx="715.6" cy="625.8" r="6.6"/><circle cx="720.7" cy="643.7" r="6.6"/></g></g>
<g stroke-opacity="0.85" stroke="#50a1d3" fill="none"><path d="M181.8,542.9 L188.2,545.5 L192.0,542.9 L195.8,551.9 L198.4,537.8 L201.0,522.4 L207.4,527.5 L211.2,516.0 L215.0,513.5 L220.2,478.9 L226.6,446.9 L233.0,499.4 L239.4,512.2 L244.5,493.0 L247.1,477.6 L250.9,503.2 L254.7,484.0 L258.6,509.6 L262.4,458.4 L265.0,516.0 L267.5,459.7 L270.6,461.0 L273.9,505.8 L280.3,480.2 L285.5,469.9 L293.1,466.1 L299.5,476.3 L302.1,450.7 L307.2,468.6 L316.2,489.1 L320.0,475.0 L323.9,445.1 L329.0,499.9 L332.8,496.8 L336.7,495.5 L341.0,430.8 L346.9,485.3 L352.5,473.8 L357.2,504.5 L370.0,446.9 L376.4,496.8 L382.8,478.9 L391.7,496.8 L396.8,519.9 L407.9,467.4 L413.5,495.5 L418.6,504.5 L423.7,536.5 L430.9,527.5 L436.5,559.5 L442.9,544.2 L449.8,510.1 L457.0,535.2 L460.9,539.1 L466.0,571.1 L473.7,545.5 L477.5,548.0 L481.3,585.1 L490.3,551.9 L503.1,613.3 L503.6,613.0 L526.1,578.4 L538.9,588.7 L543.5,534.9 L547.9,563.1 L552.2,541.3 L555.5,590.0 L561.4,575.9 L564.5,590.0 L569.6,606.6 L578.6,639.9 L590.6,600.2 L597.3,633.5 L606.7,619.4 L615.7,629.6 L621.3,610.4 L627.2,632.2 L636.2,638.6 L646.4,642.4 L647.7,624.5 L652.8,632.2" fill="none" stroke-width="3.8" stroke-linejoin="round"/><g stroke-width="2.7"><circle cx="181.8" cy="542.9" r="6.6"/><circle cx="188.2" cy="545.5" r="6.6"/><circle cx="192.0" cy="542.9" r="6.6"/><circle cx="195.8" cy="551.9" r="6.6"/><circle cx="198.4" cy="537.8" r="6.6"/><circle cx="201.0" cy="522.4" r="6.6"/><circle cx="207.4" cy="527.5" r="6.6"/><circle cx="211.2" cy="516.0" r="6.6"/><circle cx="215.0" cy="513.5" r="6.6"/><circle cx="220.2" cy="478.9" r="6.6"/><circle cx="226.6" cy="446.9" r="6.6"/><circle cx="233.0" cy="499.4" r="6.6"/><circle cx="239.4" cy="512.2" r="6.6"/><circle cx="244.5" cy="493.0" r="6.6"/><circle cx="247.1" cy="477.6" r="6.6"/><circle cx="250.9" cy="503.2" r="6.6"/><circle cx="254.7" cy="484.0" r="6.6"/><circle cx="258.6" cy="509.6" r="6.6"/><circle cx="262.4" cy="458.4" r="6.6"/><circle cx="265.0" cy="516.0" r="6.6"/><circle cx="267.5" cy="459.7" r="6.6"/><circle cx="270.6" cy="461.0" r="6.6"/><circle cx="273.9" cy="505.8" r="6.6"/><circle cx="280.3" cy="480.2" r="6.6"/><circle cx="285.5" cy="469.9" r="6.6"/><circle cx="293.1" cy="466.1" r="6.6"/><circle cx="299.5" cy="476.3" r="6.6"/><circle cx="302.1" cy="450.7" r="6.6"/><circle cx="307.2" cy="468.6" r="6.6"/><circle cx="316.2" cy="489.1" r="6.6"/><circle cx="320.0" cy="475.0" r="6.6"/><circle cx="323.9" cy="445.1" r="6.6"/><circle cx="329.0" cy="499.9" r="6.6"/><circle cx="332.8" cy="496.8" r="6.6"/><circle cx="336.7" cy="495.5" r="6.6"/><circle cx="341.0" cy="430.8" r="6.6"/><circle cx="346.9" cy="485.3" r="6.6"/><circle cx="352.5" cy="473.8" r="6.6"/><circle cx="357.2" cy="504.5" r="6.6"/><circle cx="370.0" cy="446.9" r="6.6"/><circle cx="376.4" cy="496.8" r="6.6"/><circle cx="382.8" cy="478.9" r="6.6"/><circle cx="391.7" cy="496.8" r="6.6"/><circle cx="396.8" cy="519.9" r="6.6"/><circle cx="407.9" cy="467.4" r="6.6"/><circle cx="413.5" cy="495.5" r="6.6"/><circle cx="418.6" cy="504.5" r="6.6"/><circle cx="423.7" cy="536.5" r="6.6"/><circle cx="430.9" cy="527.5" r="6.6"/><circle cx="436.5" cy="559.5" r="6.6"/><circle cx="442.9" cy="544.2" r="6.6"/><circle cx="449.8" cy="510.1" r="6.6"/><circle cx="457.0" cy="535.2" r="6.6"/><circle cx="460.9" cy="539.1" r="6.6"/><circle cx="466.0" cy="571.1" r="6.6"/><circle cx="473.7" cy="545.5" r="6.6"/><circle cx="477.5" cy="548.0" r="6.6"/><circle cx="481.3" cy="585.1" r="6.6"/><circle cx="490.3" cy="551.9" r="6.6"/><circle cx="503.1" cy="613.3" r="6.6"/><circle cx="503.6" cy="613.0" r="6.6"/><circle cx="526.1" cy="578.4" r="6.6"/><circle cx="538.9" cy="588.7" r="6.6"/><circle cx="543.5" cy="534.9" r="6.6"/><circle cx="547.9" cy="563.1" r="6.6"/><circle cx="552.2" cy="541.3" r="6.6"/><circle cx="555.5" cy="590.0" r="6.6"/><circle cx="561.4" cy="575.9" r="6.6"/><circle cx="564.5" cy="590.0" r="6.6"/><circle cx="569.6" cy="606.6" r="6.6"/><circle cx="578.6" cy="639.9" r="6.6"/><circle cx="590.6" cy="600.2" r="6.6"/><circle cx="597.3" cy="633.5" r="6.6"/><circle cx="606.7" cy="619.4" r="6.6"/><circle cx="615.7" cy="629.6" r="6.6"/><circle cx="621.3" cy="610.4" r="6.6"/><circle cx="627.2" cy="632.2" r="6.6"/><circle cx="636.2" cy="638.6" r="6.6"/><circle cx="646.4" cy="642.4" r="6.6"/><circle cx="647.7" cy="624.5" r="6.6"/><circle cx="652.8" cy="632.2" r="6.6"/></g></g>
<g stroke-opacity="0.85" stroke="#0c62a8" fill="none"><path d="M176.6,383.8 L178.4,397.9 L181.8,385.0 L180.5,406.8 L184.3,394.0 L183.0,404.3 L188.2,399.1 L190.7,406.8 L193.3,411.9 L195.8,401.7 L198.4,406.8 L201.0,399.1 L203.5,394.0 L207.4,396.6 L209.9,385.0 L212.5,376.1 L213.8,388.9 L215.0,399.1 L226.6,387.6 L243.2,397.9 L253.5,386.3 L266.3,375.6 L273.9,381.2 L293.1,382.0 L302.1,377.4 L311.1,375.6 L317.5,383.3 L323.9,379.9 L332.1,351.8 L338.0,372.2 L346.9,372.2 L354.6,376.1 L359.7,401.7 L363.6,404.3 L368.7,379.9 L375.1,381.2 L380.2,386.3 L385.3,387.6 L393.0,383.8 L400.7,385.0 L409.6,391.5 L416.0,385.0 L419.9,388.9 L426.3,376.1 L434.0,401.7 L437.8,401.7 L441.7,399.1 L448.1,392.7 L457.0,377.4 L460.9,372.2 L464.7,374.8 L468.5,405.5 L476.2,405.5 L480.1,415.8 L480.1,431.1 L483.9,435.0 L486.5,419.6 L492.9,424.7 L501.8,441.4 L513.3,433.7 L480.0,408.2 L483.8,428.6 L487.7,421.0 L492.8,426.1 L500.5,441.5 L513.3,432.5 L522.2,418.4 L529.9,436.3 L537.6,425.6 L551.7,450.4 L564.5,445.3 L573.5,465.8 L587.5,463.2 L595.2,491.4 L611.9,469.6 L636.2,473.5 L650.3,485.5 L666.1,450.4 L677.7,498.3 L694.6,523.4 L713.5,518.3 L748.1,429.2 L777.5,488.8 L800.1,515.7 L830.8,498.3 L830.7,498.2 L862.0,476.9 L914.7,496.2 L1027.6,443.6 L1049.5,523.2 L1089.6,440.7 L1118.6,482.0 L1125.7,436.5 L1150.5,446.4 L1169.8,450.7" fill="none" stroke-width="3.8" stroke-linejoin="round"/><g stroke-width="2.7"><circle cx="176.6" cy="383.8" r="6.6"/><circle cx="178.4" cy="397.9" r="6.6"/><circle cx="181.8" cy="385.0" r="6.6"/><circle cx="180.5" cy="406.8" r="6.6"/><circle cx="184.3" cy="394.0" r="6.6"/><circle cx="183.0" cy="404.3" r="6.6"/><circle cx="188.2" cy="399.1" r="6.6"/><circle cx="190.7" cy="406.8" r="6.6"/><circle cx="193.3" cy="411.9" r="6.6"/><circle cx="195.8" cy="401.7" r="6.6"/><circle cx="198.4" cy="406.8" r="6.6"/><circle cx="201.0" cy="399.1" r="6.6"/><circle cx="203.5" cy="394.0" r="6.6"/><circle cx="207.4" cy="396.6" r="6.6"/><circle cx="209.9" cy="385.0" r="6.6"/><circle cx="212.5" cy="376.1" r="6.6"/><circle cx="213.8" cy="388.9" r="6.6"/><circle cx="215.0" cy="399.1" r="6.6"/><circle cx="226.6" cy="387.6" r="6.6"/><circle cx="243.2" cy="397.9" r="6.6"/><circle cx="253.5" cy="386.3" r="6.6"/><circle cx="266.3" cy="375.6" r="6.6"/><circle cx="273.9" cy="381.2" r="6.6"/><circle cx="293.1" cy="382.0" r="6.6"/><circle cx="302.1" cy="377.4" r="6.6"/><circle cx="311.1" cy="375.6" r="6.6"/><circle cx="317.5" cy="383.3" r="6.6"/><circle cx="323.9" cy="379.9" r="6.6"/><circle cx="332.1" cy="351.8" r="6.6"/><circle cx="338.0" cy="372.2" r="6.6"/><circle cx="346.9" cy="372.2" r="6.6"/><circle cx="354.6" cy="376.1" r="6.6"/><circle cx="359.7" cy="401.7" r="6.6"/><circle cx="363.6" cy="404.3" r="6.6"/><circle cx="368.7" cy="379.9" r="6.6"/><circle cx="375.1" cy="381.2" r="6.6"/><circle cx="380.2" cy="386.3" r="6.6"/><circle cx="385.3" cy="387.6" r="6.6"/><circle cx="393.0" cy="383.8" r="6.6"/><circle cx="400.7" cy="385.0" r="6.6"/><circle cx="409.6" cy="391.5" r="6.6"/><circle cx="416.0" cy="385.0" r="6.6"/><circle cx="419.9" cy="388.9" r="6.6"/><circle cx="426.3" cy="376.1" r="6.6"/><circle cx="434.0" cy="401.7" r="6.6"/><circle cx="437.8" cy="401.7" r="6.6"/><circle cx="441.7" cy="399.1" r="6.6"/><circle cx="448.1" cy="392.7" r="6.6"/><circle cx="457.0" cy="377.4" r="6.6"/><circle cx="460.9" cy="372.2" r="6.6"/><circle cx="464.7" cy="374.8" r="6.6"/><circle cx="468.5" cy="405.5" r="6.6"/><circle cx="476.2" cy="405.5" r="6.6"/><circle cx="480.1" cy="415.8" r="6.6"/><circle cx="480.1" cy="431.1" r="6.6"/><circle cx="483.9" cy="435.0" r="6.6"/><circle cx="486.5" cy="419.6" r="6.6"/><circle cx="492.9" cy="424.7" r="6.6"/><circle cx="501.8" cy="441.4" r="6.6"/><circle cx="513.3" cy="433.7" r="6.6"/><circle cx="480.0" cy="408.2" r="6.6"/><circle cx="483.8" cy="428.6" r="6.6"/><circle cx="487.7" cy="421.0" r="6.6"/><circle cx="492.8" cy="426.1" r="6.6"/><circle cx="500.5" cy="441.5" r="6.6"/><circle cx="513.3" cy="432.5" r="6.6"/><circle cx="522.2" cy="418.4" r="6.6"/><circle cx="529.9" cy="436.3" r="6.6"/><circle cx="537.6" cy="425.6" r="6.6"/><circle cx="551.7" cy="450.4" r="6.6"/><circle cx="564.5" cy="445.3" r="6.6"/><circle cx="573.5" cy="465.8" r="6.6"/><circle cx="587.5" cy="463.2" r="6.6"/><circle cx="595.2" cy="491.4" r="6.6"/><circle cx="611.9" cy="469.6" r="6.6"/><circle cx="636.2" cy="473.5" r="6.6"/><circle cx="650.3" cy="485.5" r="6.6"/><circle cx="666.1" cy="450.4" r="6.6"/><circle cx="677.7" cy="498.3" r="6.6"/><circle cx="694.6" cy="523.4" r="6.6"/><circle cx="713.5" cy="518.3" r="6.6"/><circle cx="748.1" cy="429.2" r="6.6"/><circle cx="777.5" cy="488.8" r="6.6"/><circle cx="800.1" cy="515.7" r="6.6"/><circle cx="830.8" cy="498.3" r="6.6"/><circle cx="830.7" cy="498.2" r="6.6"/><circle cx="862.0" cy="476.9" r="6.6"/><circle cx="914.7" cy="496.2" r="6.6"/><circle cx="1027.6" cy="443.6" r="6.6"/><circle cx="1049.5" cy="523.2" r="6.6"/><circle cx="1089.6" cy="440.7" r="6.6"/><circle cx="1118.6" cy="482.0" r="6.6"/><circle cx="1125.7" cy="436.5" r="6.6"/><circle cx="1150.5" cy="446.4" r="6.6"/><circle cx="1169.8" cy="450.7" r="6.6"/></g></g>
<g stroke-opacity="0.85" stroke="#079c72" fill="none"><path d="M181.0,259.6 L187.7,252.4 L213.8,239.1 L241.4,253.2 L248.3,244.3 L253.5,241.7 L270.1,221.2 L273.9,226.8 L281.6,205.3 L288.0,197.7 L290.1,203.8 L297.8,204.6 L313.6,225.0 L325.1,224.3 L338.5,273.7 L343.8,257.1 L350.8,266.0 L354.6,259.6 L362.3,291.6 L374.6,251.9 L403.8,259.1 L418.6,266.0 L432.7,246.8 L441.7,244.3 L449.3,259.6 L454.5,271.1 L459.6,267.3 L466.0,234.0 L477.5,262.2 L481.3,226.3 L485.2,214.0 L489.5,227.6 L495.4,237.1 L501.8,248.1 L509.5,258.3 L532.2,276.3 L568.8,305.7 L589.3,312.9 L600.8,312.1 L622.6,323.1 L640.5,324.9 L663.6,296.0 L677.6,292.4 L695.6,285.2 L710.4,291.6" fill="none" stroke-width="3.8" stroke-linejoin="round"/><g stroke-width="2.7"><circle cx="181.0" cy="259.6" r="6.6"/><circle cx="187.7" cy="252.4" r="6.6"/><circle cx="213.8" cy="239.1" r="6.6"/><circle cx="241.4" cy="253.2" r="6.6"/><circle cx="248.3" cy="244.3" r="6.6"/><circle cx="253.5" cy="241.7" r="6.6"/><circle cx="270.1" cy="221.2" r="6.6"/><circle cx="273.9" cy="226.8" r="6.6"/><circle cx="281.6" cy="205.3" r="6.6"/><circle cx="288.0" cy="197.7" r="6.6"/><circle cx="290.1" cy="203.8" r="6.6"/><circle cx="297.8" cy="204.6" r="6.6"/><circle cx="313.6" cy="225.0" r="6.6"/><circle cx="325.1" cy="224.3" r="6.6"/><circle cx="338.5" cy="273.7" r="6.6"/><circle cx="343.8" cy="257.1" r="6.6"/><circle cx="350.8" cy="266.0" r="6.6"/><circle cx="354.6" cy="259.6" r="6.6"/><circle cx="362.3" cy="291.6" r="6.6"/><circle cx="374.6" cy="251.9" r="6.6"/><circle cx="403.8" cy="259.1" r="6.6"/><circle cx="418.6" cy="266.0" r="6.6"/><circle cx="432.7" cy="246.8" r="6.6"/><circle cx="441.7" cy="244.3" r="6.6"/><circle cx="449.3" cy="259.6" r="6.6"/><circle cx="454.5" cy="271.1" r="6.6"/><circle cx="459.6" cy="267.3" r="6.6"/><circle cx="466.0" cy="234.0" r="6.6"/><circle cx="477.5" cy="262.2" r="6.6"/><circle cx="481.3" cy="226.3" r="6.6"/><circle cx="485.2" cy="214.0" r="6.6"/><circle cx="489.5" cy="227.6" r="6.6"/><circle cx="495.4" cy="237.1" r="6.6"/><circle cx="501.8" cy="248.1" r="6.6"/><circle cx="509.5" cy="258.3" r="6.6"/><circle cx="532.2" cy="276.3" r="6.6"/><circle cx="568.8" cy="305.7" r="6.6"/><circle cx="589.3" cy="312.9" r="6.6"/><circle cx="600.8" cy="312.1" r="6.6"/><circle cx="622.6" cy="323.1" r="6.6"/><circle cx="640.5" cy="324.9" r="6.6"/><circle cx="663.6" cy="296.0" r="6.6"/><circle cx="677.6" cy="292.4" r="6.6"/><circle cx="695.6" cy="285.2" r="6.6"/><circle cx="710.4" cy="291.6" r="6.6"/></g></g>
<g stroke-opacity="0.85" stroke="#cf5500" fill="none"><path d="M204.7,281.8 L208.9,293.4 L213.9,288.8 L218.7,288.3 L221.9,293.3 L227.5,297.1 L235.4,305.0 L237.8,301.7 L245.8,293.6 L249.8,286.8 L256.3,284.8 L261.1,283.6 L268.0,272.4 L270.9,277.3 L278.4,276.5 L279.1,278.4 L283.1,282.9 L285.8,267.9 L288.2,271.7 L296.9,269.5 L299.1,268.3 L307.1,275.2 L308.7,283.5 L318.6,276.3 L321.2,262.6 L323.5,266.6 L326.0,248.8 L327.9,266.3 L329.2,291.6 L331.0,299.6 L336.0,294.6 L342.4,291.8 L346.3,290.1 L353.1,302.9 L355.6,303.5 L364.4,294.5 L368.6,289.5 L376.8,283.1 L383.2,284.5 L390.3,281.4 L394.7,280.2 L405.1,277.8 L411.7,273.5 L418.1,273.9 L424.0,271.4 L428.4,284.7 L430.4,268.7 L434.7,247.4 L436.8,266.9 L438.9,294.9 L440.9,300.7 L445.3,310.1 L455.7,308.0 L458.1,319.3 L462.7,323.5 L468.1,321.9 L477.5,317.5 L480.9,308.2 L484.2,301.0 L487.2,304.6 L489.2,307.6 L501.0,320.5 L506.7,325.5 L513.5,303.4 L517.8,307.9 L462.1,324.4 L466.5,321.9 L471.3,321.6 L480.1,307.1 L486.5,301.0 L494.0,307.6 L496.4,316.1 L501.8,319.5 L506.8,315.4 L510.6,306.0 L515.1,310.1 L522.4,315.0 L526.1,313.6 L531.8,311.7 L536.7,310.8 L540.7,316.4 L546.2,283.4 L549.9,331.0 L555.6,328.0 L558.6,322.7 L562.0,321.6 L567.9,321.5 L571.1,320.8 L574.8,321.8 L580.4,327.2 L585.2,326.7 L589.8,326.9 L594.7,331.4 L598.0,331.4 L603.7,327.2 L608.2,326.2 L612.8,329.6 L616.7,333.7 L619.4,328.9 L624.4,321.5 L627.5,330.9 L632.5,341.1 L635.1,338.3 L639.9,332.8 L650.7,330.8 L668.2,332.1 L687.5,333.2 L704.2,336.2 L721.4,329.9 L736.2,327.6 L747.2,327.5 L755.9,335.7 L760.6,333.1 L765.2,323.9 L770.1,328.2 L773.2,334.7 L777.0,338.6 L780.3,340.4 L782.0,340.3 L786.5,340.0 L788.9,338.9 L793.9,334.3 L797.6,330.3 L803.9,322.4 L806.1,326.3 L811.1,332.5 L815.6,325.6 L808.3,331.9 L812.6,329.2 L817.1,332.1 L821.1,329.6 L824.8,327.8 L830.5,323.5 L834.1,319.7 L838.7,324.6 L841.9,323.6 L847.5,327.5 L851.2,325.2 L856.0,322.6 L859.1,321.3 L864.2,318.9 L867.7,317.9 L873.6,320.3 L877.3,325.1 L881.9,323.1 L884.7,319.9 L887.1,319.7 L890.7,316.8 L895.0,313.2 L900.3,309.0 L904.2,314.0 L906.9,316.8 L909.8,322.8 L911.1,325.4 L915.7,324.4 L919.3,320.9 L924.9,320.2 L927.4,320.0 L933.6,320.6 L939.1,320.1 L941.1,321.2 L944.5,325.4 L951.3,323.8 L957.5,315.8 L963.1,314.7 L967.7,315.2 L972.0,312.7 L978.6,314.6 L982.3,313.1 L987.6,307.5 L993.1,310.4 L999.1,309.9 L1004.5,315.8 L1008.8,315.8 L1011.9,318.2 L1016.6,320.8 L1021.4,323.3 L1023.8,321.9 L1028.7,320.6 L1033.9,317.4 L1038.0,317.1 L1042.5,313.0 L1045.8,315.8 L1049.3,312.9 L1051.7,314.7 L1055.6,318.0 L1059.9,323.5 L1062.4,330.5 L1067.7,332.0 L1072.6,337.6 L1075.1,336.2 L1079.3,330.4 L1084.4,333.1 L1087.4,334.8 L1091.5,330.3 L1095.1,326.3 L1100.6,328.1 L1104.5,326.7 L1108.4,323.0 L1112.6,324.5 L1116.1,321.3 L1120.9,321.1 L1125.3,318.5 L1129.8,318.6 L1136.4,316.3 L1142.2,313.7 L1145.1,318.5 L1149.0,326.8 L1153.8,327.4 L1156.3,332.2 L1161.3,333.3 L1164.8,331.6 L1167.6,329.3 L1172.0,328.5 L1176.3,321.3 L1180.1,317.0" fill="none" stroke-width="3.8" stroke-linejoin="round"/><g stroke-width="2.7"><circle cx="204.7" cy="281.8" r="6.6"/><circle cx="208.9" cy="293.4" r="6.6"/><circle cx="213.9" cy="288.8" r="6.6"/><circle cx="218.7" cy="288.3" r="6.6"/><circle cx="221.9" cy="293.3" r="6.6"/><circle cx="227.5" cy="297.1" r="6.6"/><circle cx="235.4" cy="305.0" r="6.6"/><circle cx="237.8" cy="301.7" r="6.6"/><circle cx="245.8" cy="293.6" r="6.6"/><circle cx="249.8" cy="286.8" r="6.6"/><circle cx="256.3" cy="284.8" r="6.6"/><circle cx="261.1" cy="283.6" r="6.6"/><circle cx="268.0" cy="272.4" r="6.6"/><circle cx="270.9" cy="277.3" r="6.6"/><circle cx="278.4" cy="276.5" r="6.6"/><circle cx="279.1" cy="278.4" r="6.6"/><circle cx="283.1" cy="282.9" r="6.6"/><circle cx="285.8" cy="267.9" r="6.6"/><circle cx="288.2" cy="271.7" r="6.6"/><circle cx="296.9" cy="269.5" r="6.6"/><circle cx="299.1" cy="268.3" r="6.6"/><circle cx="307.1" cy="275.2" r="6.6"/><circle cx="308.7" cy="283.5" r="6.6"/><circle cx="318.6" cy="276.3" r="6.6"/><circle cx="321.2" cy="262.6" r="6.6"/><circle cx="323.5" cy="266.6" r="6.6"/><circle cx="326.0" cy="248.8" r="6.6"/><circle cx="327.9" cy="266.3" r="6.6"/><circle cx="329.2" cy="291.6" r="6.6"/><circle cx="331.0" cy="299.6" r="6.6"/><circle cx="336.0" cy="294.6" r="6.6"/><circle cx="342.4" cy="291.8" r="6.6"/><circle cx="346.3" cy="290.1" r="6.6"/><circle cx="353.1" cy="302.9" r="6.6"/><circle cx="355.6" cy="303.5" r="6.6"/><circle cx="364.4" cy="294.5" r="6.6"/><circle cx="368.6" cy="289.5" r="6.6"/><circle cx="376.8" cy="283.1" r="6.6"/><circle cx="383.2" cy="284.5" r="6.6"/><circle cx="390.3" cy="281.4" r="6.6"/><circle cx="394.7" cy="280.2" r="6.6"/><circle cx="405.1" cy="277.8" r="6.6"/><circle cx="411.7" cy="273.5" r="6.6"/><circle cx="418.1" cy="273.9" r="6.6"/><circle cx="424.0" cy="271.4" r="6.6"/><circle cx="428.4" cy="284.7" r="6.6"/><circle cx="430.4" cy="268.7" r="6.6"/><circle cx="434.7" cy="247.4" r="6.6"/><circle cx="436.8" cy="266.9" r="6.6"/><circle cx="438.9" cy="294.9" r="6.6"/><circle cx="440.9" cy="300.7" r="6.6"/><circle cx="445.3" cy="310.1" r="6.6"/><circle cx="455.7" cy="308.0" r="6.6"/><circle cx="458.1" cy="319.3" r="6.6"/><circle cx="462.7" cy="323.5" r="6.6"/><circle cx="468.1" cy="321.9" r="6.6"/><circle cx="477.5" cy="317.5" r="6.6"/><circle cx="480.9" cy="308.2" r="6.6"/><circle cx="484.2" cy="301.0" r="6.6"/><circle cx="487.2" cy="304.6" r="6.6"/><circle cx="489.2" cy="307.6" r="6.6"/><circle cx="501.0" cy="320.5" r="6.6"/><circle cx="506.7" cy="325.5" r="6.6"/><circle cx="513.5" cy="303.4" r="6.6"/><circle cx="517.8" cy="307.9" r="6.6"/><circle cx="462.1" cy="324.4" r="6.6"/><circle cx="466.5" cy="321.9" r="6.6"/><circle cx="471.3" cy="321.6" r="6.6"/><circle cx="480.1" cy="307.1" r="6.6"/><circle cx="486.5" cy="301.0" r="6.6"/><circle cx="494.0" cy="307.6" r="6.6"/><circle cx="496.4" cy="316.1" r="6.6"/><circle cx="501.8" cy="319.5" r="6.6"/><circle cx="506.8" cy="315.4" r="6.6"/><circle cx="510.6" cy="306.0" r="6.6"/><circle cx="515.1" cy="310.1" r="6.6"/><circle cx="522.4" cy="315.0" r="6.6"/><circle cx="526.1" cy="313.6" r="6.6"/><circle cx="531.8" cy="311.7" r="6.6"/><circle cx="536.7" cy="310.8" r="6.6"/><circle cx="540.7" cy="316.4" r="6.6"/><circle cx="546.2" cy="283.4" r="6.6"/><circle cx="549.9" cy="331.0" r="6.6"/><circle cx="555.6" cy="328.0" r="6.6"/><circle cx="558.6" cy="322.7" r="6.6"/><circle cx="562.0" cy="321.6" r="6.6"/><circle cx="567.9" cy="321.5" r="6.6"/><circle cx="571.1" cy="320.8" r="6.6"/><circle cx="574.8" cy="321.8" r="6.6"/><circle cx="580.4" cy="327.2" r="6.6"/><circle cx="585.2" cy="326.7" r="6.6"/><circle cx="589.8" cy="326.9" r="6.6"/><circle cx="594.7" cy="331.4" r="6.6"/><circle cx="598.0" cy="331.4" r="6.6"/><circle cx="603.7" cy="327.2" r="6.6"/><circle cx="608.2" cy="326.2" r="6.6"/><circle cx="612.8" cy="329.6" r="6.6"/><circle cx="616.7" cy="333.7" r="6.6"/><circle cx="619.4" cy="328.9" r="6.6"/><circle cx="624.4" cy="321.5" r="6.6"/><circle cx="627.5" cy="330.9" r="6.6"/><circle cx="632.5" cy="341.1" r="6.6"/><circle cx="635.1" cy="338.3" r="6.6"/><circle cx="639.9" cy="332.8" r="6.6"/><circle cx="650.7" cy="330.8" r="6.6"/><circle cx="668.2" cy="332.1" r="6.6"/><circle cx="687.5" cy="333.2" r="6.6"/><circle cx="704.2" cy="336.2" r="6.6"/><circle cx="721.4" cy="329.9" r="6.6"/><circle cx="736.2" cy="327.6" r="6.6"/><circle cx="747.2" cy="327.5" r="6.6"/><circle cx="755.9" cy="335.7" r="6.6"/><circle cx="760.6" cy="333.1" r="6.6"/><circle cx="765.2" cy="323.9" r="6.6"/><circle cx="770.1" cy="328.2" r="6.6"/><circle cx="773.2" cy="334.7" r="6.6"/><circle cx="777.0" cy="338.6" r="6.6"/><circle cx="780.3" cy="340.4" r="6.6"/><circle cx="782.0" cy="340.3" r="6.6"/><circle cx="786.5" cy="340.0" r="6.6"/><circle cx="788.9" cy="338.9" r="6.6"/><circle cx="793.9" cy="334.3" r="6.6"/><circle cx="797.6" cy="330.3" r="6.6"/><circle cx="803.9" cy="322.4" r="6.6"/><circle cx="806.1" cy="326.3" r="6.6"/><circle cx="811.1" cy="332.5" r="6.6"/><circle cx="815.6" cy="325.6" r="6.6"/><circle cx="808.3" cy="331.9" r="6.6"/><circle cx="812.6" cy="329.2" r="6.6"/><circle cx="817.1" cy="332.1" r="6.6"/><circle cx="821.1" cy="329.6" r="6.6"/><circle cx="824.8" cy="327.8" r="6.6"/><circle cx="830.5" cy="323.5" r="6.6"/><circle cx="834.1" cy="319.7" r="6.6"/><circle cx="838.7" cy="324.6" r="6.6"/><circle cx="841.9" cy="323.6" r="6.6"/><circle cx="847.5" cy="327.5" r="6.6"/><circle cx="851.2" cy="325.2" r="6.6"/><circle cx="856.0" cy="322.6" r="6.6"/><circle cx="859.1" cy="321.3" r="6.6"/><circle cx="864.2" cy="318.9" r="6.6"/><circle cx="867.7" cy="317.9" r="6.6"/><circle cx="873.6" cy="320.3" r="6.6"/><circle cx="877.3" cy="325.1" r="6.6"/><circle cx="881.9" cy="323.1" r="6.6"/><circle cx="884.7" cy="319.9" r="6.6"/><circle cx="887.1" cy="319.7" r="6.6"/><circle cx="890.7" cy="316.8" r="6.6"/><circle cx="895.0" cy="313.2" r="6.6"/><circle cx="900.3" cy="309.0" r="6.6"/><circle cx="904.2" cy="314.0" r="6.6"/><circle cx="906.9" cy="316.8" r="6.6"/><circle cx="909.8" cy="322.8" r="6.6"/><circle cx="911.1" cy="325.4" r="6.6"/><circle cx="915.7" cy="324.4" r="6.6"/><circle cx="919.3" cy="320.9" r="6.6"/><circle cx="924.9" cy="320.2" r="6.6"/><circle cx="927.4" cy="320.0" r="6.6"/><circle cx="933.6" cy="320.6" r="6.6"/><circle cx="939.1" cy="320.1" r="6.6"/><circle cx="941.1" cy="321.2" r="6.6"/><circle cx="944.5" cy="325.4" r="6.6"/><circle cx="951.3" cy="323.8" r="6.6"/><circle cx="957.5" cy="315.8" r="6.6"/><circle cx="963.1" cy="314.7" r="6.6"/><circle cx="967.7" cy="315.2" r="6.6"/><circle cx="972.0" cy="312.7" r="6.6"/><circle cx="978.6" cy="314.6" r="6.6"/><circle cx="982.3" cy="313.1" r="6.6"/><circle cx="987.6" cy="307.5" r="6.6"/><circle cx="993.1" cy="310.4" r="6.6"/><circle cx="999.1" cy="309.9" r="6.6"/><circle cx="1004.5" cy="315.8" r="6.6"/><circle cx="1008.8" cy="315.8" r="6.6"/><circle cx="1011.9" cy="318.2" r="6.6"/><circle cx="1016.6" cy="320.8" r="6.6"/><circle cx="1021.4" cy="323.3" r="6.6"/><circle cx="1023.8" cy="321.9" r="6.6"/><circle cx="1028.7" cy="320.6" r="6.6"/><circle cx="1033.9" cy="317.4" r="6.6"/><circle cx="1038.0" cy="317.1" r="6.6"/><circle cx="1042.5" cy="313.0" r="6.6"/><circle cx="1045.8" cy="315.8" r="6.6"/><circle cx="1049.3" cy="312.9" r="6.6"/><circle cx="1051.7" cy="314.7" r="6.6"/><circle cx="1055.6" cy="318.0" r="6.6"/><circle cx="1059.9" cy="323.5" r="6.6"/><circle cx="1062.4" cy="330.5" r="6.6"/><circle cx="1067.7" cy="332.0" r="6.6"/><circle cx="1072.6" cy="337.6" r="6.6"/><circle cx="1075.1" cy="336.2" r="6.6"/><circle cx="1079.3" cy="330.4" r="6.6"/><circle cx="1084.4" cy="333.1" r="6.6"/><circle cx="1087.4" cy="334.8" r="6.6"/><circle cx="1091.5" cy="330.3" r="6.6"/><circle cx="1095.1" cy="326.3" r="6.6"/><circle cx="1100.6" cy="328.1" r="6.6"/><circle cx="1104.5" cy="326.7" r="6.6"/><circle cx="1108.4" cy="323.0" r="6.6"/><circle cx="1112.6" cy="324.5" r="6.6"/><circle cx="1116.1" cy="321.3" r="6.6"/><circle cx="1120.9" cy="321.1" r="6.6"/><circle cx="1125.3" cy="318.5" r="6.6"/><circle cx="1129.8" cy="318.6" r="6.6"/><circle cx="1136.4" cy="316.3" r="6.6"/><circle cx="1142.2" cy="313.7" r="6.6"/><circle cx="1145.1" cy="318.5" r="6.6"/><circle cx="1149.0" cy="326.8" r="6.6"/><circle cx="1153.8" cy="327.4" r="6.6"/><circle cx="1156.3" cy="332.2" r="6.6"/><circle cx="1161.3" cy="333.3" r="6.6"/><circle cx="1164.8" cy="331.6" r="6.6"/><circle cx="1167.6" cy="329.3" r="6.6"/><circle cx="1172.0" cy="328.5" r="6.6"/><circle cx="1176.3" cy="321.3" r="6.6"/><circle cx="1180.1" cy="317.0" r="6.6"/></g></g>
<g stroke-opacity="0.85" stroke="#c768a6" fill="none"><path d="M204.7,276.2 L206.4,294.7 L207.2,298.2 L214.0,296.0 L218.6,298.7 L224.9,302.0 L229.1,301.0 L234.8,303.7 L238.6,305.0 L245.8,302.0 L249.5,299.4 L257.4,296.1 L259.9,294.8 L262.3,290.6 L265.4,298.3 L265.6,304.3 L271.6,293.7 L273.6,307.2 L275.7,321.3 L279.2,311.4 L281.0,303.9 L287.3,302.0 L293.3,302.3 L302.5,300.3 L305.6,299.2 L314.5,296.9 L317.4,295.2 L325.1,287.5 L328.1,283.5 L336.1,281.3 L340.5,284.7 L347.0,277.2 L349.8,269.1 L354.5,293.9 L358.2,285.2 L365.6,273.3 L368.4,269.9 L376.5,267.2 L379.6,262.7 L384.7,273.5 L388.5,272.2 L396.2,272.5 L400.0,274.6 L407.7,278.2 L411.4,283.9 L418.6,293.7 L420.2,300.4 L428.6,306.5 L431.8,301.5 L440.2,298.7 L445.1,302.0 L451.1,297.9 L455.0,302.4 L463.1,308.0 L466.4,314.3 L474.5,317.1 L478.7,317.6 L486.1,316.2 L489.8,319.8 L495.7,325.6 L501.0,355.1 L507.8,361.2 L511.1,365.3 L513.2,389.7" fill="none" stroke-width="3.8" stroke-linejoin="round"/><g stroke-width="2.7"><circle cx="204.7" cy="276.2" r="6.6"/><circle cx="206.4" cy="294.7" r="6.6"/><circle cx="207.2" cy="298.2" r="6.6"/><circle cx="214.0" cy="296.0" r="6.6"/><circle cx="218.6" cy="298.7" r="6.6"/><circle cx="224.9" cy="302.0" r="6.6"/><circle cx="229.1" cy="301.0" r="6.6"/><circle cx="234.8" cy="303.7" r="6.6"/><circle cx="238.6" cy="305.0" r="6.6"/><circle cx="245.8" cy="302.0" r="6.6"/><circle cx="249.5" cy="299.4" r="6.6"/><circle cx="257.4" cy="296.1" r="6.6"/><circle cx="259.9" cy="294.8" r="6.6"/><circle cx="262.3" cy="290.6" r="6.6"/><circle cx="265.4" cy="298.3" r="6.6"/><circle cx="265.6" cy="304.3" r="6.6"/><circle cx="271.6" cy="293.7" r="6.6"/><circle cx="273.6" cy="307.2" r="6.6"/><circle cx="275.7" cy="321.3" r="6.6"/><circle cx="279.2" cy="311.4" r="6.6"/><circle cx="281.0" cy="303.9" r="6.6"/><circle cx="287.3" cy="302.0" r="6.6"/><circle cx="293.3" cy="302.3" r="6.6"/><circle cx="302.5" cy="300.3" r="6.6"/><circle cx="305.6" cy="299.2" r="6.6"/><circle cx="314.5" cy="296.9" r="6.6"/><circle cx="317.4" cy="295.2" r="6.6"/><circle cx="325.1" cy="287.5" r="6.6"/><circle cx="328.1" cy="283.5" r="6.6"/><circle cx="336.1" cy="281.3" r="6.6"/><circle cx="340.5" cy="284.7" r="6.6"/><circle cx="347.0" cy="277.2" r="6.6"/><circle cx="349.8" cy="269.1" r="6.6"/><circle cx="354.5" cy="293.9" r="6.6"/><circle cx="358.2" cy="285.2" r="6.6"/><circle cx="365.6" cy="273.3" r="6.6"/><circle cx="368.4" cy="269.9" r="6.6"/><circle cx="376.5" cy="267.2" r="6.6"/><circle cx="379.6" cy="262.7" r="6.6"/><circle cx="384.7" cy="273.5" r="6.6"/><circle cx="388.5" cy="272.2" r="6.6"/><circle cx="396.2" cy="272.5" r="6.6"/><circle cx="400.0" cy="274.6" r="6.6"/><circle cx="407.7" cy="278.2" r="6.6"/><circle cx="411.4" cy="283.9" r="6.6"/><circle cx="418.6" cy="293.7" r="6.6"/><circle cx="420.2" cy="300.4" r="6.6"/><circle cx="428.6" cy="306.5" r="6.6"/><circle cx="431.8" cy="301.5" r="6.6"/><circle cx="440.2" cy="298.7" r="6.6"/><circle cx="445.1" cy="302.0" r="6.6"/><circle cx="451.1" cy="297.9" r="6.6"/><circle cx="455.0" cy="302.4" r="6.6"/><circle cx="463.1" cy="308.0" r="6.6"/><circle cx="466.4" cy="314.3" r="6.6"/><circle cx="474.5" cy="317.1" r="6.6"/><circle cx="478.7" cy="317.6" r="6.6"/><circle cx="486.1" cy="316.2" r="6.6"/><circle cx="489.8" cy="319.8" r="6.6"/><circle cx="495.7" cy="325.6" r="6.6"/><circle cx="501.0" cy="355.1" r="6.6"/><circle cx="507.8" cy="361.2" r="6.6"/><circle cx="511.1" cy="365.3" r="6.6"/><circle cx="513.2" cy="389.7" r="6.6"/></g></g>
<g stroke-opacity="0.85" stroke="#079c72" fill="none"><line x1="767.6" y1="201.6" x2="811.6" y2="201.6" stroke-width="3.4"/><circle cx="789.6" cy="201.6" r="5.7" stroke-width="2.4"/></g><text x="835.5" y="214.8" font-size="28.9" fill="#5a5a5a">Malawi - TEX<tspan font-size="17" dy="10">86</tspan></text><text x="835.5" y="240.8" font-size="22" fill="#5a5a5a">474 m asl</text>
<g stroke-opacity="0.85" stroke="#cf5500" fill="none"><line x1="767.6" y1="264" x2="811.6" y2="264" stroke-width="3.4"/><circle cx="789.6" cy="264" r="5.7" stroke-width="2.4"/></g><text x="835.5" y="275" font-size="28.9" fill="#5a5a5a">Tanganyika - TEX<tspan font-size="17" dy="10">86</tspan></text><text x="835.5" y="301" font-size="22" fill="#5a5a5a">773 m asl</text>
<g stroke-opacity="0.85" stroke="#c768a6" fill="none"><line x1="767.6" y1="377.8" x2="811.6" y2="377.8" stroke-width="3.4"/><circle cx="789.6" cy="377.8" r="5.7" stroke-width="2.4"/></g><text x="835.5" y="388.2" font-size="28.9" fill="#5a5a5a">Victoria - TEX<tspan font-size="17" dy="10">86</tspan></text><text x="835.5" y="414.2" font-size="22" fill="#5a5a5a">1135 m asl</text>
<g stroke-opacity="0.85" stroke="#0c62a8" fill="none"><line x1="767.6" y1="580.5" x2="811.6" y2="580.5" stroke-width="3.4"/><circle cx="789.6" cy="580.5" r="5.7" stroke-width="2.4"/></g><text x="834" y="590.5" font-size="28.9" fill="#5a5a5a">Sacred - brGDGTs</text><text x="834" y="616.8" font-size="22" fill="#5a5a5a">2350 m asl</text>
<g stroke-opacity="0.85" stroke="#50a1d3" fill="none"><line x1="767.6" y1="641" x2="811.6" y2="641" stroke-width="3.4"/><circle cx="789.6" cy="641" r="5.7" stroke-width="2.4"/></g><text x="834" y="651.3" font-size="28.9" fill="#5a5a5a">Mahoma - brGDGTs</text><text x="834" y="677.3" font-size="22" fill="#5a5a5a">2990 m asl</text>
<g stroke-opacity="0.85" stroke="#e9dd2c" fill="none"><line x1="767.6" y1="700" x2="811.6" y2="700" stroke-width="3.4"/><circle cx="789.6" cy="700" r="5.7" stroke-width="2.4"/></g><text x="834" y="708.5" font-size="28.9" fill="#5a5a5a">Rutundu - brGDGTs</text><text x="834" y="734.1" font-size="22" fill="#5a5a5a">3081 m asl</text>
<g stroke-opacity="0.85" stroke="#e39a00" fill="none"><line x1="764" y1="761.3" x2="808" y2="761.3" stroke-width="3.4"/><circle cx="786" cy="761.3" r="5.7" stroke-width="2.4"/></g><text x="833" y="768.9" font-size="28.9" fill="#5a5a5a">Garba Guracha - brGDGTs</text><text x="833" y="794.2" font-size="22" fill="#5a5a5a">3950 m asl</text>
<rect x="263" y="812" width="68.5" height="46.5" fill="rgba(230,60,40,0.16)" stroke="#df3328" stroke-width="3.1"/>
<path d="M182.8,882.6 L186.6,902.8 L191.3,905.4 L197.7,901.8 L203.1,894.3 L208.4,880.4 L212.7,877.7 L219.1,877.2 L225.5,875.5 L231.9,877.7 L238.3,875.1 L245.7,868.7 L251.1,859.1 L259.6,851.6 L266.0,846.3 L272.4,841.0 L276.7,837.8 L283.1,834.6 L289.5,829.9 L294.8,827.7 L300.2,829.2 L306.6,834.6 L313.0,841.0 L318.3,847.4 L321.9,852.0 L329.0,849.5 L334.3,854.8 L340.7,858.0 L347.1,864.0 L352.4,866.6 L358.8,863.4 L366.3,859.1 L371.6,856.3 L375.9,859.1 L383.4,869.8 L394.0,878.3 L404.7,887.9 L411.1,898.6 L419.6,912.4 L428.2,921.0 L436.7,931.6 L447.4,939.1 L458.1,932.7 L465.6,936.8 L474.1,942.1 L479.5,942.1 L485.9,951.7 L493.3,971.0 L499.7,992.3 L505.1,1007.2 L509.3,1011.1 L518.9,1007.2 L527.5,1003.0 L535.0,996.1 L540.3,998.7 L545.6,1005.1 L551.0,1009.4 L556.3,1024.3 L561.6,1031.8 L568.0,1039.2 L576.6,1053.1 L585.1,1060.1 L592.6,1057.4 L602.2,1061.0 L609.6,1060.1 L619.2,1064.8 L627.8,1064.8 L634.2,1070.2 L638.4,1071.2 L644.8,1058.4 L653.4,1030.7 L657.6,1016.8 L661.9,1011.5 L671.5,1017.9 L676.8,1028.6 L682.2,1037.1 L691.8,1042.0 L699.2,1039.2 L708.8,1040.9 L718.4,1040.3 L723.8,1035.4" fill="none" stroke="#000" stroke-width="3.8" stroke-linejoin="round"/>
<rect x="578" y="1034" width="67.5" height="51.5" fill="rgba(180,238,250,0.6)" stroke="#2c4f9e" stroke-width="3.1"/>
<line x1="172.7" y1="932.6" x2="1184" y2="932.6" stroke="#000" stroke-width="3.4" stroke-dasharray="13.2 12.9"/>
<rect x="739.5" y="1018.3" width="29.4" height="29.4" fill="#fde0de" stroke="#df3328" stroke-width="3.2"/>
<rect x="739.5" y="1059.8" width="29.4" height="29.4" fill="#d8eef6" stroke="#2c4f9e" stroke-width="3.2"/>
<text x="786.5" y="1043.2" font-size="30.4" fill="#000" text-anchor="start" font-weight="400" >mean Max T</text>
<text x="786.5" y="1087" font-size="30.4" fill="#000" text-anchor="start" font-weight="400" >mean Min T</text>
<defs><linearGradient id="gc" gradientUnits="userSpaceOnUse" x1="0" y1="1040" x2="0" y2="1400"><stop offset="0" stop-color="#f2542a"/><stop offset="0.25" stop-color="#ee3f50"/><stop offset="0.45" stop-color="#e8307a"/><stop offset="0.65" stop-color="#cf35a0"/><stop offset="0.82" stop-color="#a63cb8"/><stop offset="1" stop-color="#7e3fc0"/></linearGradient></defs>
<path d="M174.7,1167.8 L177.5,1204.0 L180.7,1172.0 L183.2,1141.1 L187.1,1142.2 L190.3,1129.4 L192.8,1121.9 L195.6,1127.2 L199.9,1127.2 L203.1,1136.8 L206.3,1132.6 L209.5,1139.0 L213.7,1140.0 L216.9,1144.3 L220.1,1152.8 L224.4,1151.8 L228.7,1148.6 L230.8,1140.0 L234.0,1159.2 L238.3,1172.0 L241.5,1178.4 L244.7,1178.4 L247.9,1156.0 L251.1,1182.7 L253.2,1201.9 L256.4,1193.4 L260.7,1157.1 L265.0,1149.6 L269.2,1123.0 L272.4,1109.1 L277.8,1133.6 L283.1,1092.0 L287.4,1089.9 L291.6,1078.2 L294.8,1046.1 L298.0,1041.9 L302.3,1108.0 L305.1,1065.3 L309.8,1117.6 L316.8,1075.0 L321.9,1126.2 L326.8,1101.6 L332.2,1129.4 L336.4,1158.2 L340.1,1050.4 L343.9,1078.2 L348.2,1080.3 L353.5,1079.2 L358.8,1075.0 L363.1,1079.2 L368.4,1108.0 L373.8,1133.6 L383.4,1150.7 L391.9,1174.2 L396.2,1204.0 L399.4,1223.2 L400.0,1223.1 L404.8,1215.8 L409.7,1231.6 L414.5,1234.0 L419.3,1246.1 L423.0,1275.1 L426.6,1206.2 L433.9,1275.1 L441.1,1336.8 L445.9,1284.8 L450.8,1316.2 L455.6,1318.6 L460.0,1265.4 L464.1,1308.9 L468.9,1347.6 L473.8,1328.3 L478.6,1357.3 L484.6,1331.9 L490.7,1354.9 L496.2,1408.1 L504.0,1400.8 L511.2,1396.0 L517.3,1383.9 L522.1,1381.5 L527.0,1342.8 L531.8,1311.4 L536.6,1311.4 L540.3,1311.4 L543.9,1325.9 L548.7,1330.7 L554.8,1367.0 L558.4,1392.4 L562.0,1364.6 L568.1,1388.7 L574.1,1368.2 L580.2,1374.2 L585.0,1345.2 L591.0,1353.7 L594.7,1313.8 L600.7,1379.1 L607.5,1340.4 L612.8,1381.5 L617.6,1344.0 L623.7,1340.4 L629.7,1316.2 L634.1,1270.3 L639.4,1333.1 L646.7,1278.7 L651.5,1279.9 L653.9,1305.3 L657.5,1287.2 L662.4,1289.6 L667.2,1257.0 L672.0,1277.5 L674.5,1275.1 L678.1,1327.1 L684.1,1246.1 L687.8,1267.8 L690.9,1235.2 L693.8,1263.0 L697.4,1241.2 L703.5,1243.7 L711.9,1250.9 L721.6,1242.4 L725.1,1258.5 L729.4,1280.7 L731.6,1304.6 L735.4,1232.9 L739.1,1289.2 L743.6,1270.5 L748.2,1306.3 L754.1,1263.6 L760.6,1208.2 L767.8,1212.4 L774.6,1219.2 L783.2,1218.4 L787.4,1191.9 L791.7,1218.4 L796.8,1195.3 L801.1,1185.1 L805.3,1215.8 L810.1,1236.3 L814.7,1212.4 L819.0,1212.4 L825.0,1217.5 L828.4,1161.2 L832.7,1230.3 L837.8,1190.2 L842.0,1223.5 L846.3,1219.2 L850.9,1155.2 L855.7,1202.2 L863.4,1226.1 L868.5,1208.2 L873.6,1204.7 L877.9,1181.7 L881.3,1180.0 L886.4,1193.6 L890.7,1186.8 L895.0,1236.3 L899.2,1221.0 L904.4,1251.7 L909.5,1253.4 L917.2,1221.0 L922.3,1229.5 L925.7,1270.5 L930.0,1289.2 L935.1,1273.9 L942.8,1246.6 L947.0,1250.0 L953.0,1236.3 L956.8,1193.6 L957.3,1193.6 L960.2,1192.8 L965.4,1209.0 L970.5,1287.5 L979.0,1227.8 L984.1,1286.7 L988.4,1255.1 L992.7,1253.4 L997.5,1222.7 L1002.1,1270.5 L1007.2,1270.5 L1013.2,1239.7 L1018.3,1231.2 L1024.3,1200.5 L1028.5,1214.1 L1033.6,1250.0 L1038.3,1173.2 L1042.2,1190.2 L1047.3,1226.9 L1055.8,1195.3 L1060.1,1221.8 L1067.8,1203.9 L1072.0,1215.8 L1077.2,1239.7 L1082.3,1226.1 L1086.6,1244.9 L1095.1,1224.4 L1100.2,1247.4 L1105.0,1219.2 L1109.6,1234.6 L1113.9,1255.1 L1119.8,1228.6 L1123.3,1232.9 L1127.5,1246.6 L1135.7,1223.5 L1140.3,1236.3 L1145.4,1226.9 L1154.0,1255.9 L1158.3,1255.1 L1166.8,1260.2 L1171.9,1256.8 L1176.2,1229.5 L1179.6,1232.9 L1182.1,1244.9" fill="none" stroke="url(#gc)" stroke-width="3.3" stroke-linejoin="round"/>
<path d="M353.7,1070.9 l8.2,8.2 M353.7,1079.1 l8.2,-8.2" stroke="#555" stroke-width="1.8" fill="none"/>
<path d="M347.3,1105.0 l8.2,8.2 M347.3,1113.2 l8.2,-8.2" stroke="#555" stroke-width="1.8" fill="none"/>
<path d="M362.2,1111.4 l8.2,8.2 M362.2,1119.6 l8.2,-8.2" stroke="#555" stroke-width="1.8" fill="none"/>
<path d="M623.2,1334.4 l8.2,8.2 M623.2,1342.6 l8.2,-8.2" stroke="#555" stroke-width="1.8" fill="none"/>
<path d="M708.6,1240.8 l8.2,8.2 M708.6,1249.0 l8.2,-8.2" stroke="#555" stroke-width="1.8" fill="none"/>
<path d="M752.6,1299.1 l8.2,8.2 M752.6,1307.3 l8.2,-8.2" stroke="#555" stroke-width="1.8" fill="none"/>
<path d="M748.3,1315.0 l8.2,8.2 M748.3,1323.2 l8.2,-8.2" stroke="#555" stroke-width="1.8" fill="none"/>
<path d="M774.8,1208.8 l8.2,8.2 M774.8,1217.0 l8.2,-8.2" stroke="#555" stroke-width="1.8" fill="none"/>
<path d="M855.0,1231.7 l8.2,8.2 M855.0,1239.9 l8.2,-8.2" stroke="#555" stroke-width="1.8" fill="none"/>
<path d="M929.3,1263.0 l8.2,8.2 M929.3,1271.2 l8.2,-8.2" stroke="#555" stroke-width="1.8" fill="none"/>
<path d="M934.7,1287.7 l8.2,8.2 M934.7,1295.9 l8.2,-8.2" stroke="#555" stroke-width="1.8" fill="none"/>
<path d="M1057.7,1204.1 l8.2,8.2 M1057.7,1212.3 l8.2,-8.2" stroke="#555" stroke-width="1.8" fill="none"/>
<text x="494.5" y="1279.8" font-size="37" fill="#676767" text-anchor="start" font-weight="400" >Chala</text>
<path d="M203.3,1401.3 L204.7,1514.0 L206.0,1434.2 L207.3,1480.6 L208.7,1507.7 L210.0,1487.3 L211.4,1507.7 L212.7,1473.6 L214.1,1416.9 L215.4,1362.2 L216.8,1446.0 L218.1,1557.8 L219.5,1414.4 L220.8,1479.5 L222.2,1425.8 L223.5,1498.3 L224.9,1385.6 L226.2,1349.7 L227.6,1507.7 L228.9,1458.7 L230.3,1401.3 L231.6,1475.0 L233.0,1467.3 L234.3,1500.9 L235.7,1535.9 L237.0,1424.8 L238.4,1466.7 L239.7,1512.1 L241.1,1517.1 L242.4,1492.3 L243.8,1444.8 L245.1,1471.4 L246.5,1510.8 L247.8,1456.5 L249.2,1349.7 L250.5,1503.0 L251.9,1441.3 L253.2,1424.8 L254.6,1423.2 L255.9,1486.8 L257.3,1443.7 L258.6,1524.9 L260.0,1453.1 L261.3,1379.4 L262.7,1465.1 L264.0,1495.0 L265.4,1428.2 L266.7,1479.6 L268.1,1529.6 L269.4,1435.7 L270.8,1482.5 L272.2,1506.1 L273.5,1476.0 L274.9,1520.4 L276.2,1495.9 L277.6,1535.3 L278.9,1489.2 L280.3,1525.6 L281.6,1506.5 L283.0,1535.8 L284.3,1495.1 L285.7,1521.2 L287.0,1493.8 L288.4,1528.8 L289.7,1484.5 L291.1,1468.6 L292.4,1481.7 L293.8,1538.1 L295.1,1451.4 L296.5,1500.8 L297.8,1423.2 L299.2,1489.1 L300.5,1349.7 L301.9,1502.0 L303.2,1440.9 L304.6,1345.0 L305.9,1413.7 L307.3,1495.2 L308.6,1409.5 L310.0,1373.9 L311.3,1412.4 L312.7,1421.1 L314.0,1446.7 L315.4,1362.2 L316.7,1346.5 L318.1,1429.3 L319.4,1456.1 L320.8,1450.7 L322.1,1414.8 L323.5,1454.8 L324.8,1404.9 L326.2,1474.1 L327.5,1402.8 L328.9,1449.3 L330.2,1312.1 L331.6,1438.8 L332.9,1364.7 L334.3,1429.5 L335.6,1382.8 L337.0,1417.4 L338.3,1410.5 L339.7,1474.1 L341.0,1425.6 L342.4,1467.9 L343.7,1437.1 L345.1,1388.8 L346.4,1438.5 L347.8,1570.0 L349.1,1447.1 L350.5,1491.1 L351.8,1451.4 L353.2,1424.8 L354.5,1462.9 L355.9,1540.6 L357.2,1483.3 L358.6,1418.5 L359.9,1467.1 L361.3,1515.8 L362.6,1470.6 L364.0,1512.7 L365.3,1546.8 L366.7,1423.2 L368.0,1455.3 L369.4,1526.5 L370.7,1468.8 L372.1,1424.8 L373.4,1472.0 L374.8,1535.9 L376.1,1462.5 L377.5,1482.7 L378.8,1458.3 L380.2,1401.3 L381.5,1510.8 L382.9,1480.3 L384.2,1430.2 L385.6,1475.3 L386.9,1526.5 L388.3,1476.0 L389.6,1429.5 L391.0,1510.8" fill="none" stroke="#b9b9b9" stroke-width="2.7" stroke-linejoin="bevel"/>
<path d="M207.2,1470.1 L209.6,1481.9 L212.7,1462.3 L217.4,1456.1 L220.5,1438.8 L223.6,1438.1 L225.2,1446.7 L229.9,1446.7 L232.2,1476.4 L234.6,1487.4 L236.9,1481.9 L240.9,1481.1 L244.0,1457.6 L247.9,1449.8 L251.0,1447.5 L254.2,1467.0 L257.3,1460.8 L261.2,1466.2 L263.5,1473.3 L265.9,1460.8 L268.2,1485.0 L272.9,1503.0 L275.3,1503.0 L276.8,1516.3 L280.0,1515.5 L283.9,1510.0 L286.2,1506.1 L290.1,1503.8 L292.5,1506.1 L295.6,1497.5 L299.5,1473.3 L305.8,1435.7 L310.5,1427.9 L312.8,1408.3 L315.2,1407.6 L319.9,1421.6 L324.3,1446.7 L326.1,1420.9 L328.5,1420.1 L331.6,1393.5 L333.6,1387.2 L335.5,1395.0 L337.9,1420.1 L339.9,1421.6 L342.6,1448.2 L344.9,1456.1 L348.8,1463.9 L352.7,1482.7 L355.1,1490.5 L358.2,1490.5 L362.1,1496.7 L366.8,1476.4 L371.5,1479.5 L373.1,1481.1 L375.4,1467.0 L377.0,1474.1 L384.0,1465.4" fill="none" stroke="#000" stroke-width="3.4" stroke-linejoin="round"/>
<text x="317.5" y="1531.3" font-size="40.4" fill="#676767" text-anchor="start" font-weight="400" >GeoB 12605</text>
<path d="M201.2,1648.4 L208.7,1636.0 L222.4,1636.0 L259.7,1596.1 L270.2,1570.0 L280.1,1594.9 L294.1,1609.3 L303.3,1609.3 L312.0,1582.4 L324.9,1557.1 L333.9,1557.1 L336.1,1649.7 L340.6,1596.1 L353.8,1689.0 L356.3,1701.9 L358.8,1649.2 L361.0,1662.6 L365.5,1649.2 L369.7,1649.2 L374.7,1636.0 L381.2,1636.0 L385.9,1741.8 L389.1,1714.4 L394.6,1714.4 L401.6,1741.8 L404.1,1701.4 L408.6,1714.4 L414.8,1741.8 L419.5,1701.4 L421.5,1714.4 L423.3,1701.4 L428.5,1728.1 L429.7,1714.4 L433.5,1755.5 L437.7,1781.6 L441.4,1767.9 L443.9,1781.6 L448.4,1781.6 L453.4,1741.8 L461.8,1767.9 L475.8,1741.3 L504.9,1741.3 L516.2,1768.2 L526.9,1898.9 L539.8,1925.0 L554.3,1938.7 L565.2,1832.9 L578.4,1938.7 L599.1,1886.4 L614.5,1989.0 L638.9,1846.6 L650.1,1832.9 L663.5,1872.8 L675.5,1846.6 L689.2,1846.6 L699.9,1859.8 L711.6,1832.9 L726.5,1806.8 L735.7,1846.6 L746.4,1767.0 L758.1,1780.6 L771.3,1754.5 L782.5,1780.6 L793.7,1872.8 L807.4,1846.6 L818.6,1806.8 L831.8,1780.6 L843.5,1806.8 L843.7,1808.0 L854.2,1820.4 L865.4,1766.9 L877.3,1793.5 L890.3,1807.2 L901.5,1753.7 L912.7,1846.6 L925.9,1833.4 L937.1,1727.6 L950.8,1740.8 L964.0,1714.6 L977.4,1793.5 L990.6,1806.7 L1004.3,1780.6 L1018.0,1766.9 L1033.7,1807.2 L1065.3,1780.1 L1083.2,1727.6 L1100.6,1753.7 L1118.8,1688.5 L1159.4,1661.6 L1183.0,1702.2" fill="none" stroke="#000" stroke-width="3.0" stroke-linejoin="miter"/>
<text x="549.3" y="1770.8" font-size="36.8" fill="#676767" text-anchor="start" font-weight="400" >MD79−257</text>
<path d="M174.7,1779.2 L176.0,1841.1 L179.0,1833.6 L181.7,1849.6 L183.9,1853.9 L186.6,1843.2 L188.8,1851.7 L190.3,1878.4 L192.4,1860.3 L194.5,1883.8 L197.3,1898.7 L199.9,1888.0 L204.1,1880.6 L208.4,1879.1 L210.5,1892.3 L213.1,1915.8 L216.9,1885.9 L220.1,1882.7 L222.3,1890.2 L224.4,1904.0 L226.5,1903.0 L229.3,1915.8 L231.9,1912.6 L233.4,1920.0 L235.5,1897.6 L237.9,1907.2 L241.5,1890.2 L243.6,1884.8 L246.8,1871.0 L248.9,1866.7 L251.1,1850.7 L253.2,1863.5 L255.8,1864.6 L258.5,1853.9 L260.0,1841.1 L263.9,1836.8 L267.1,1841.1 L268.8,1830.4 L271.4,1849.6 L273.9,1866.7 L277.8,1864.6 L281.0,1857.1 L282.7,1856.0 L285.2,1844.3 L289.5,1835.7 L291.2,1846.4 L293.8,1837.9 L298.0,1827.2 L300.2,1813.3 L302.3,1825.1 L305.5,1810.1 L308.7,1806.9 L311.3,1803.7 L314.0,1814.4 L316.2,1808.0 L320.4,1811.2 L322.6,1821.9 L325.3,1812.3 L327.5,1818.7 L330.0,1802.7 L331.7,1792.0 L335.4,1808.0 L338.6,1801.6 L340.7,1816.5 L343.3,1811.2 L346.0,1835.7 L348.2,1842.1 L351.4,1864.6 L353.5,1879.5 L355.2,1896.6 L357.3,1903.0 L359.9,1900.8 L363.1,1895.5 L365.2,1914.7 L368.0,1911.5 L371.6,1935.0 L374.4,1937.1 L376.5,1953.1 L378.7,1937.1 L381.2,1930.7 L384.4,1939.2 L387.6,1932.8 L391.9,1947.8 L394.0,1943.5 L399.4,1945.6 L402.6,1942.4 L405.8,1942.4 L407.9,1933.9 L411.1,1937.1 L414.3,1945.6 L417.5,1947.8 L420.7,1962.7 L423.9,1975.5 L428.2,1973.4 L432.9,1981.9 L436.7,1975.5 L439.3,1977.6 L441.6,1970.2 L443.8,1981.9 L446.3,1975.5 L448.4,1977.6 L452.7,1993.6 L457.4,1983.0 L458.1,1983.5 L460.2,1994.7 L461.3,2009.1 L463.9,2030.4 L466.7,2025.1 L470.9,2037.9 L473.1,2035.7 L476.3,2045.3 L478.4,2044.3 L480.1,2059.2 L482.7,2047.5 L484.8,2062.4 L486.9,2058.2 L491.2,2096.6 L493.3,2096.6 L495.9,2083.8 L498.0,2097.6 L500.8,2103.0 L502.9,2099.8 L505.1,2105.1 L508.3,2101.9 L511.5,2117.9 L513.6,2111.5 L515.7,2121.1 L518.9,2107.2 L522.1,2100.8 L525.3,2107.2 L527.5,2108.3 L529.6,2119.0 L533.9,2125.4 L538.2,2125.4 L540.3,2132.8 L542.4,2146.7 L544.6,2131.8 L548.8,2140.3 L553.1,2141.4 L556.3,2131.8 L558.4,2131.8 L561.6,2142.4 L565.9,2138.2 L568.0,2138.2 L571.2,2130.7 L574.4,2145.6 L576.6,2136.0 L579.8,2141.4 L583.4,2152.0 L587.2,2144.6 L590.4,2148.8 L593.6,2146.7 L596.4,2139.2 L599.0,2147.8 L603.2,2152.0 L607.5,2135.0 L609.6,2131.8 L611.8,2124.3 L615.0,2139.2 L618.2,2128.6 L621.4,2119.0 L623.5,2117.9 L626.1,2129.6 L628.8,2113.6 L632.0,2110.4 L635.2,2098.7 L637.4,2098.7 L639.1,2113.6 L641.6,2085.9 L643.8,2083.8 L648.0,2087.0 L650.2,2098.7 L653.4,2087.0 L656.6,2075.2 L658.7,2088.0 L664.0,2080.6 L667.2,2078.4 L669.4,2074.2 L672.6,2064.6 L674.7,2075.2 L677.9,2060.3 L681.1,2064.6 L682.6,2051.7 L684.3,2069.9 L686.4,2041.1 L688.6,2049.6 L690.7,2045.3 L692.8,2050.7 L695.0,2042.1 L698.2,2041.1 L699.9,2047.5 L702.0,2035.7 L704.6,2033.6 L706.7,2024.0 L709.9,2026.1 L713.1,2038.9 L715.2,2022.9 L718.4,2034.7 L721.7,2027.2 L722.0,2026.7 L724.3,2032.7 L726.8,2031.8 L728.5,2040.3 L731.1,2019.9 L733.3,2043.8 L735.7,2022.4 L737.9,2010.5 L740.5,2018.2 L742.2,2026.7 L744.8,2018.2 L747.0,2030.1 L749.0,2016.4 L751.6,2015.6 L754.1,2008.8 L755.8,2001.1 L757.6,2023.3 L760.1,1990.0 L762.3,2008.8 L764.7,1995.1 L766.9,2002.8 L769.5,1988.3 L772.1,1978.9 L773.8,1975.5 L776.3,1978.9 L778.0,1972.9 L780.1,1997.7 L782.3,1972.9 L784.5,1994.3 L786.9,1962.7 L789.1,1992.5 L791.4,1968.6 L793.7,1983.2 L798.5,1983.2 L801.1,2000.2 L802.8,2017.3 L804.5,1995.1 L807.1,1991.7 L810.5,2008.8 L813.9,2017.3 L816.4,2007.1 L819.9,2010.5 L823.3,2012.2 L825.5,1989.1 L827.5,2003.6 L830.1,2005.3 L831.8,2000.2 L834.0,2011.3 L836.1,2001.1 L838.6,1996.8 L841.2,2003.6 L843.8,2015.6 L846.0,2026.7 L847.7,2013.0 L849.7,2031.0 L852.3,2013.9 L854.9,2001.9 L856.6,1999.4 L858.6,2010.5 L860.8,2031.0 L863.0,2013.9 L865.4,2029.2 L869.9,2017.3 L871.9,2025.8 L874.5,2024.1 L876.7,2027.5 L881.3,2019.0 L883.5,2029.2 L885.6,2034.4 L888.1,2024.1 L890.4,2004.5 L892.4,2015.6 L894.5,2024.1 L897.5,2021.6 L899.2,2024.1 L901.3,2005.3 L903.5,2028.4 L905.7,2013.9 L907.8,2013.9 L911.2,2012.2 L914.6,2016.4 L917.2,2024.1 L919.4,2003.6 L921.4,2019.0 L924.0,2001.9 L926.5,2013.0 L929.1,2006.2 L931.7,2005.3 L933.0,2011.3 L935.4,1996.0 L937.1,2008.8 L939.3,1993.4 L941.9,1990.8 L944.0,1991.7 L946.2,1985.7 L948.7,1996.0 L950.0,1995.1 L953.1,1988.3 L955.1,1993.4 L957.2,2000.2 L959.4,1978.9 L961.6,1999.4 L964.0,1974.6 L966.2,2001.1 L967.9,1984.0 L970.5,2003.6 L973.0,1987.4 L975.6,1984.9 L978.2,1988.3 L980.4,1992.5 L982.4,1981.5 L985.8,1981.1 L989.3,1980.1 L991.0,1983.2 L993.0,2004.5 L995.2,1990.0 L997.5,1987.4 L999.8,1995.1 L1002.1,2004.5 L1004.3,1991.7 L1006.3,1996.0 L1008.9,1990.8 L1011.1,1994.3 L1013.5,1983.2 L1015.7,1979.4 L1018.3,1993.4 L1020.3,1984.0 L1022.5,1994.3 L1025.1,1986.6 L1027.7,1984.0 L1029.4,1994.3 L1031.9,1993.4 L1033.6,1971.2 L1036.2,1978.0 L1038.4,1977.2 L1040.1,1968.6 L1042.2,1974.6 L1044.7,1980.6 L1047.3,1984.9 L1049.3,1992.5 L1051.6,1976.3 L1053.8,1990.0 L1056.2,1978.9 L1059.2,1988.3 L1061.3,1993.4 L1064.4,1988.3 L1067.4,1981.5 L1069.5,2003.6 L1072.0,1993.4 L1074.3,1978.9 L1076.3,1995.1 L1078.4,1978.9 L1080.6,2000.2 L1082.8,1983.2 L1084.9,1991.7 L1087.4,2006.2 L1090.0,1991.7 L1092.0,1978.9 L1094.8,1998.5 L1096.8,1988.3 L1099.4,1998.5 L1101.9,1999.4 L1103.6,2001.9 L1105.7,1980.6 L1107.9,1991.7 L1109.6,1997.7 L1112.2,1990.0 L1114.7,1993.4 L1118.1,1991.7 L1120.7,1995.1 L1124.1,1991.7 L1125.8,1988.3 L1127.9,1981.5 L1129.6,1988.3 L1132.3,1983.2 L1134.7,1984.0 L1136.9,1994.3 L1139.1,1973.8 L1141.2,1982.3 L1143.7,1985.7 L1146.3,1979.7 L1148.3,1971.2 L1150.6,1979.7 L1152.3,1990.0 L1154.8,1978.0 L1156.9,1965.2 L1159.1,1966.9 L1161.7,1972.9 L1163.7,1978.0 L1165.9,1955.0 L1168.2,1977.2 L1170.2,1966.9 L1172.2,1970.4 L1175.0,1951.6 L1177.0,1973.8 L1179.6,1971.2 L1182.1,1970.4 L1183.9,1957.6" fill="none" stroke="#000" stroke-width="2.9" stroke-linejoin="round"/>
<text x="480" y="2017" font-size="36.8" fill="#676767" text-anchor="start" font-weight="400" >South Africa</text>
<path d="M174.0,176.2 V726.9" stroke="#000" stroke-width="3.7" fill="none"/><path d="M174.0,177.4 h-10.6" stroke="#000" stroke-width="2.9" fill="none"/><text x="156.3" y="192.9" font-size="31.3" fill="#4d4d4d" text-anchor="end">30</text><path d="M174.0,255.7 h-10.6" stroke="#000" stroke-width="2.9" fill="none"/><text x="156.3" y="271.2" font-size="31.3" fill="#4d4d4d" text-anchor="end">26</text><path d="M174.0,334.0 h-10.6" stroke="#000" stroke-width="2.9" fill="none"/><text x="156.3" y="349.5" font-size="31.3" fill="#4d4d4d" text-anchor="end">22</text><path d="M174.0,412.4 h-10.6" stroke="#000" stroke-width="2.9" fill="none"/><text x="156.3" y="427.9" font-size="31.3" fill="#4d4d4d" text-anchor="end">18</text><path d="M174.0,490.7 h-10.6" stroke="#000" stroke-width="2.9" fill="none"/><text x="156.3" y="506.2" font-size="31.3" fill="#4d4d4d" text-anchor="end">14</text><path d="M174.0,569.0 h-10.6" stroke="#000" stroke-width="2.9" fill="none"/><text x="156.3" y="584.5" font-size="31.3" fill="#4d4d4d" text-anchor="end">10</text><path d="M174.0,647.3 h-10.6" stroke="#000" stroke-width="2.9" fill="none"/><text x="156.3" y="662.8" font-size="31.3" fill="#4d4d4d" text-anchor="end">6</text><path d="M174.0,725.6 h-10.6" stroke="#000" stroke-width="2.9" fill="none"/><text x="156.3" y="741.1" font-size="31.3" fill="#4d4d4d" text-anchor="end">2</text>
<path d="M1184,746.5 V1118.7" stroke="#000" stroke-width="3.7" fill="none"/><path d="M1184,747.8 h10.6" stroke="#000" stroke-width="2.9" fill="none"/><text x="1201.5" y="759.4" font-size="35.5" fill="#4d4d4d">4</text><path d="M1184,794.0 h10.6" stroke="#000" stroke-width="2.9" fill="none"/><text x="1201.5" y="805.6" font-size="35.5" fill="#4d4d4d">3</text><path d="M1184,840.2 h10.6" stroke="#000" stroke-width="2.9" fill="none"/><text x="1201.5" y="851.8" font-size="35.5" fill="#4d4d4d">2</text><path d="M1184,886.4 h10.6" stroke="#000" stroke-width="2.9" fill="none"/><text x="1201.5" y="898.0" font-size="35.5" fill="#4d4d4d">1</text><path d="M1184,932.6 h10.6" stroke="#000" stroke-width="2.9" fill="none"/><text x="1201.5" y="944.2" font-size="35.5" fill="#4d4d4d">0</text><path d="M1184,978.8 h10.6" stroke="#000" stroke-width="2.9" fill="none"/><text x="1201.5" y="990.4" font-size="35.5" fill="#4d4d4d">−1</text><path d="M1184,1025.0 h10.6" stroke="#000" stroke-width="2.9" fill="none"/><text x="1201.5" y="1036.6" font-size="35.5" fill="#4d4d4d">−2</text><path d="M1184,1071.2 h10.6" stroke="#000" stroke-width="2.9" fill="none"/><text x="1201.5" y="1082.8" font-size="35.5" fill="#4d4d4d">−3</text><path d="M1184,1117.4 h10.6" stroke="#000" stroke-width="2.9" fill="none"/><text x="1201.5" y="1129.0" font-size="35.5" fill="#4d4d4d">−4</text>
<path d="M174.0,969.5 V1429.8" stroke="#000" stroke-width="3.7" fill="none"/><path d="M174.0,970.8 h-10.6" stroke="#000" stroke-width="2.9" fill="none"/><text x="155.1" y="985.6" font-size="31.3" fill="#4d4d4d" text-anchor="end">26</text><path d="M174.0,1047.1 h-10.6" stroke="#000" stroke-width="2.9" fill="none"/><text x="155.1" y="1061.9" font-size="31.3" fill="#4d4d4d" text-anchor="end">25</text><path d="M174.0,1123.4 h-10.6" stroke="#000" stroke-width="2.9" fill="none"/><text x="155.1" y="1138.2" font-size="31.3" fill="#4d4d4d" text-anchor="end">24</text><path d="M174.0,1199.7 h-10.6" stroke="#000" stroke-width="2.9" fill="none"/><text x="155.1" y="1214.5" font-size="31.3" fill="#4d4d4d" text-anchor="end">23</text><path d="M174.0,1276.0 h-10.6" stroke="#000" stroke-width="2.9" fill="none"/><text x="155.1" y="1290.8" font-size="31.3" fill="#4d4d4d" text-anchor="end">22</text><path d="M174.0,1352.3 h-10.6" stroke="#000" stroke-width="2.9" fill="none"/><text x="155.1" y="1367.1" font-size="31.3" fill="#4d4d4d" text-anchor="end">21</text><path d="M174.0,1428.6 h-10.6" stroke="#000" stroke-width="2.9" fill="none"/><text x="155.1" y="1443.4" font-size="31.3" fill="#4d4d4d" text-anchor="end">20</text>
<path d="M1307,988.8 V1422.1" stroke="#000" stroke-width="3.7" fill="none"/><path d="M1307,990.0 h10.6" stroke="#000" stroke-width="2.9" fill="none"/><text x="1325.2" y="1004.8" font-size="31.3" fill="#4d4d4d">30</text><path d="M1307,1043.9 h10.6" stroke="#000" stroke-width="2.9" fill="none"/><text x="1325.2" y="1058.7" font-size="31.3" fill="#4d4d4d">28</text><path d="M1307,1097.7 h10.6" stroke="#000" stroke-width="2.9" fill="none"/><text x="1325.2" y="1112.5" font-size="31.3" fill="#4d4d4d">26</text><path d="M1307,1151.6 h10.6" stroke="#000" stroke-width="2.9" fill="none"/><text x="1325.2" y="1166.4" font-size="31.3" fill="#4d4d4d">24</text><path d="M1307,1205.4 h10.6" stroke="#000" stroke-width="2.9" fill="none"/><text x="1325.2" y="1220.2" font-size="31.3" fill="#4d4d4d">22</text><path d="M1307,1259.3 h10.6" stroke="#000" stroke-width="2.9" fill="none"/><text x="1325.2" y="1274.1" font-size="31.3" fill="#4d4d4d">20</text><path d="M1307,1313.2 h10.6" stroke="#000" stroke-width="2.9" fill="none"/><text x="1325.2" y="1328.0" font-size="31.3" fill="#4d4d4d">18</text><path d="M1307,1367.0 h10.6" stroke="#000" stroke-width="2.9" fill="none"/><text x="1325.2" y="1381.8" font-size="31.3" fill="#4d4d4d">16</text><path d="M1307,1420.9 h10.6" stroke="#000" stroke-width="2.9" fill="none"/><text x="1325.2" y="1435.7" font-size="31.3" fill="#4d4d4d">14</text>
<path d="M111.3,1385.5 V1555.2" stroke="#000" stroke-width="3.7" fill="none"/><path d="M111.3,1386.8 h-10.6" stroke="#000" stroke-width="2.9" fill="none"/><text x="94.7" y="1397.7" font-size="31" fill="#4d4d4d" text-anchor="end">1.5</text><path d="M111.3,1442.5 h-10.6" stroke="#000" stroke-width="2.9" fill="none"/><text x="94.7" y="1453.4" font-size="31" fill="#4d4d4d" text-anchor="end">0.5</text><path d="M111.3,1498.2 h-10.6" stroke="#000" stroke-width="2.9" fill="none"/><text x="94.7" y="1509.1" font-size="31" fill="#4d4d4d" text-anchor="end">−0.5</text><path d="M111.3,1554.0 h-10.6" stroke="#000" stroke-width="2.9" fill="none"/><text x="94.7" y="1564.9" font-size="31" fill="#4d4d4d" text-anchor="end">−1.5</text>
<path d="M1184,1489.5 V2018.4" stroke="#000" stroke-width="3.7" fill="none"/><path d="M1184,1490.8 h10.6" stroke="#000" stroke-width="2.9" fill="none"/><text x="1200.2" y="1501.8" font-size="30.3" fill="#4d4d4d">28</text><path d="M1184,1622.4 h10.6" stroke="#000" stroke-width="2.9" fill="none"/><text x="1200.2" y="1633.4" font-size="30.3" fill="#4d4d4d">27</text><path d="M1184,1754.0 h10.6" stroke="#000" stroke-width="2.9" fill="none"/><text x="1200.2" y="1765.0" font-size="30.3" fill="#4d4d4d">26</text><path d="M1184,1885.6 h10.6" stroke="#000" stroke-width="2.9" fill="none"/><text x="1200.2" y="1896.6" font-size="30.3" fill="#4d4d4d">25</text><path d="M1184,2017.2 h10.6" stroke="#000" stroke-width="2.9" fill="none"/><text x="1200.2" y="2028.2" font-size="30.3" fill="#4d4d4d">24</text>
<path d="M174.0,1744.0 V2167.8" stroke="#000" stroke-width="3.7" fill="none"/><path d="M174.0,1745.2 h-10.6" stroke="#000" stroke-width="2.9" fill="none"/><text x="157.7" y="1755.4" font-size="31" fill="#4d4d4d" text-anchor="end">1</text><path d="M174.0,1850.5 h-10.6" stroke="#000" stroke-width="2.9" fill="none"/><text x="157.7" y="1860.8" font-size="31" fill="#4d4d4d" text-anchor="end">0</text><path d="M174.0,1955.9 h-10.6" stroke="#000" stroke-width="2.9" fill="none"/><text x="157.7" y="1966.1" font-size="31" fill="#4d4d4d" text-anchor="end">−1</text><path d="M174.0,2061.2 h-10.6" stroke="#000" stroke-width="2.9" fill="none"/><text x="157.7" y="2071.4" font-size="31" fill="#4d4d4d" text-anchor="end">−2</text><path d="M174.0,2166.6 h-10.6" stroke="#000" stroke-width="2.9" fill="none"/><text x="157.7" y="2176.8" font-size="31" fill="#4d4d4d" text-anchor="end">−3</text>
<path d="M172.15,2163.1 H1185.85" stroke="#000" stroke-width="4.2" fill="none"/><path d="M174.5,2163.1 v9.5" stroke="#000" stroke-width="2.9" fill="none"/><text x="174.5" y="2201.6" font-size="31" fill="#4d4d4d" text-anchor="middle">0</text><path d="M286.6,2163.1 v9.5" stroke="#000" stroke-width="2.9" fill="none"/><text x="286.6" y="2201.6" font-size="31" fill="#4d4d4d" text-anchor="middle">5</text><path d="M398.7,2163.1 v9.5" stroke="#000" stroke-width="2.9" fill="none"/><text x="398.7" y="2201.6" font-size="31" fill="#4d4d4d" text-anchor="middle">10</text><path d="M510.8,2163.1 v9.5" stroke="#000" stroke-width="2.9" fill="none"/><text x="510.8" y="2201.6" font-size="31" fill="#4d4d4d" text-anchor="middle">15</text><path d="M622.9,2163.1 v9.5" stroke="#000" stroke-width="2.9" fill="none"/><text x="622.9" y="2201.6" font-size="31" fill="#4d4d4d" text-anchor="middle">20</text><path d="M735.0,2163.1 v9.5" stroke="#000" stroke-width="2.9" fill="none"/><text x="735.0" y="2201.6" font-size="31" fill="#4d4d4d" text-anchor="middle">25</text><path d="M847.1,2163.1 v9.5" stroke="#000" stroke-width="2.9" fill="none"/><text x="847.1" y="2201.6" font-size="31" fill="#4d4d4d" text-anchor="middle">30</text><path d="M959.2,2163.1 v9.5" stroke="#000" stroke-width="2.9" fill="none"/><text x="959.2" y="2201.6" font-size="31" fill="#4d4d4d" text-anchor="middle">35</text><path d="M1071.3,2163.1 v9.5" stroke="#000" stroke-width="2.9" fill="none"/><text x="1071.3" y="2201.6" font-size="31" fill="#4d4d4d" text-anchor="middle">40</text><path d="M1183.4,2163.1 v9.5" stroke="#000" stroke-width="2.9" fill="none"/><text x="1183.4" y="2201.6" font-size="31" fill="#4d4d4d" text-anchor="middle">45</text>
<text x="684.5" y="2242.2" font-size="37" fill="#000" text-anchor="middle" font-weight="400" >Age (kyr)</text>
<text transform="translate(106.5,449.9) rotate(-90)" font-size="37" text-anchor="middle" fill="#000">GDGT−Reconstructed Temperature (°C)</text>
<text transform="translate(99.2,1178.1) rotate(-90)" font-size="37" text-anchor="middle" fill="#000">Rescaled MST (°C)</text>
<text transform="translate(27,1451.4) rotate(-90)" font-size="37" text-anchor="middle" fill="#000">SST anomaly (°C)</text>
<text transform="translate(107,1953.8) rotate(-90)" font-size="37" text-anchor="middle" fill="#000">Temperature (°C)</text>
<text transform="translate(1250.5,927.4) rotate(90)" font-size="37" text-anchor="middle" fill="#000">Ensemble Temperature (°C)</text>
<text transform="translate(1379,1217) rotate(90)" font-size="37" text-anchor="middle" fill="#000">MST (°C)</text>
<text transform="translate(1248.5,1756.3) rotate(90)" font-size="35.7" text-anchor="middle" fill="#000">SST (°C)</text></svg>
</body></html>
